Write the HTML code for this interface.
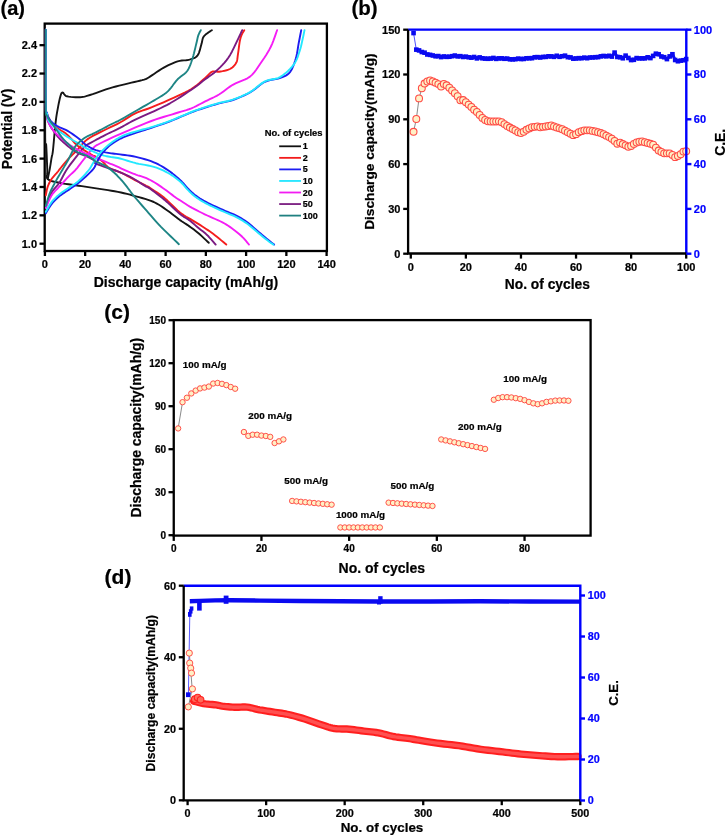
<!DOCTYPE html>
<html><head><meta charset="utf-8"><style>
html,body{margin:0;padding:0;background:#fff;}
svg{display:block;filter:blur(0.35px);}
svg text{font-family:"Liberation Sans", sans-serif;font-weight:bold;}
</style></head><body>
<svg width="725" height="837" viewBox="0 0 725 837">
<rect width="725" height="837" fill="#fff"/>
<rect x="44.7" y="23.6" width="282.2" height="227.4" fill="none" stroke="#000" stroke-width="2.3"/>
<g clip-path="url(#clipA)">
<clipPath id="clipA"><rect x="44.7" y="24.5" width="282.2" height="226.5"/></clipPath>
<path d="M45.20,29.70 L45.19,42.66 L45.16,61.53 L45.14,83.41 L45.13,105.39 L45.14,124.56 L45.20,138.00 L45.31,144.82 L45.46,147.17 L45.63,146.71 L45.82,145.09 L46.02,143.96 L46.20,145.00 L46.39,148.31 L46.59,152.59 L46.79,157.38 L46.98,162.19 L47.16,166.55 L47.30,170.00 L47.28,172.49 L47.07,174.38 L46.84,175.83 L46.76,176.98 L46.99,177.99 L47.70,179.00 L48.90,179.94 L50.45,180.69 L52.32,181.28 L54.45,181.79 L56.79,182.28 L59.30,182.80 L62.07,183.34 L65.16,183.83 L68.47,184.31 L71.88,184.77 L75.29,185.23 L78.60,185.70 L81.81,186.18 L85.01,186.65 L88.21,187.12 L91.41,187.60 L94.64,188.09 L97.90,188.60 L101.22,189.11 L104.59,189.63 L107.98,190.16 L111.36,190.70 L114.67,191.28 L117.90,191.90 L121.02,192.55 L124.05,193.24 L127.03,193.95 L129.98,194.70 L132.93,195.48 L135.90,196.30 L138.93,197.14 L142.01,197.98 L145.08,198.86 L148.10,199.81 L151.03,200.84 L153.80,202.00 L156.42,203.31 L158.92,204.75 L161.33,206.29 L163.64,207.87 L165.90,209.46 L168.10,211.00 L170.25,212.55 L172.35,214.14 L174.37,215.74 L176.33,217.29 L178.21,218.76 L180.00,220.10 L181.68,221.27 L183.24,222.30 L184.73,223.24 L186.17,224.15 L187.62,225.08 L189.10,226.10 L190.60,227.16 L192.08,228.23 L193.56,229.31 L195.06,230.45 L196.60,231.67 L198.20,233.00 L200.00,234.58 L202.01,236.41 L204.07,238.33 L206.00,240.15 L207.63,241.70 L208.80,242.80" fill="none" stroke="#151515" stroke-width="1.9" stroke-linejoin="round" stroke-linecap="round"/>
<path d="M47.70,179.00 L47.92,177.97 L48.22,176.56 L48.58,174.88 L48.97,173.03 L49.35,171.14 L49.70,169.30 L50.03,167.43 L50.36,165.43 L50.69,163.38 L51.01,161.35 L51.31,159.43 L51.60,157.70 L51.85,156.41 L52.06,155.55 L52.26,154.79 L52.47,153.83 L52.71,152.34 L53.00,150.00 L53.35,146.52 L53.76,142.09 L54.19,137.14 L54.63,132.07 L55.08,127.32 L55.50,123.30 L55.90,120.03 L56.29,117.20 L56.68,114.67 L57.07,112.34 L57.48,110.09 L57.90,107.80 L58.35,105.42 L58.83,103.01 L59.32,100.69 L59.80,98.55 L60.27,96.69 L60.70,95.20 L61.07,94.12 L61.38,93.36 L61.67,92.88 L61.98,92.63 L62.34,92.55 L62.80,92.60 L63.26,92.88 L63.69,93.47 L64.16,94.23 L64.79,95.04 L65.67,95.77 L66.90,96.30 L68.60,96.65 L70.71,96.92 L73.08,97.12 L75.53,97.23 L77.89,97.26 L80.00,97.20 L81.74,97.06 L83.22,96.86 L84.61,96.58 L86.09,96.18 L87.83,95.66 L90.00,95.00 L92.68,94.12 L95.74,93.03 L99.07,91.82 L102.52,90.57 L105.98,89.36 L109.30,88.30 L112.56,87.37 L115.87,86.49 L119.19,85.67 L122.45,84.89 L125.60,84.13 L128.60,83.40 L131.51,82.69 L134.40,82.02 L137.19,81.38 L139.79,80.77 L142.12,80.17 L144.10,79.60 L145.55,79.12 L146.49,78.76 L147.16,78.42 L147.80,78.01 L148.67,77.44 L150.00,76.60 L151.84,75.41 L154.01,73.94 L156.41,72.30 L158.91,70.61 L161.41,69.01 L163.80,67.60 L166.12,66.35 L168.47,65.16 L170.82,64.05 L173.14,63.04 L175.41,62.15 L177.60,61.40 L179.74,60.87 L181.86,60.55 L183.92,60.36 L185.90,60.19 L187.77,59.97 L189.50,59.60 L191.10,59.15 L192.58,58.70 L193.96,58.20 L195.22,57.57 L196.37,56.76 L197.40,55.70 L198.29,54.29 L199.04,52.56 L199.67,50.64 L200.22,48.67 L200.72,46.78 L201.20,45.10 L201.62,43.60 L201.93,42.18 L202.20,40.83 L202.47,39.58 L202.78,38.43 L203.20,37.40 L203.72,36.52 L204.29,35.80 L204.92,35.17 L205.59,34.61 L206.28,34.07 L207.00,33.50 L207.81,32.88 L208.73,32.23 L209.69,31.61 L210.59,31.03 L211.35,30.55 L211.90,30.20" fill="none" stroke="#151515" stroke-width="1.9" stroke-linejoin="round" stroke-linecap="round"/>
<path d="M45.60,29.70 L45.58,38.66 L45.54,51.68 L45.50,66.79 L45.48,82.02 L45.51,95.42 L45.60,105.00 L45.76,110.37 L45.97,113.00 L46.23,113.80 L46.52,113.64 L46.85,113.41 L47.20,114.00 L47.59,115.25 L48.01,116.41 L48.46,117.51 L48.95,118.55 L49.46,119.54 L50.00,120.50 L50.55,121.40 L51.10,122.23 L51.69,123.02 L52.32,123.78 L53.02,124.53 L53.80,125.30 L54.72,126.10 L55.77,126.93 L56.88,127.76 L58.00,128.54 L59.06,129.27 L60.00,129.90 L60.80,130.39 L61.49,130.77 L62.13,131.08 L62.75,131.38 L63.39,131.73 L64.10,132.20 L64.84,132.74 L65.57,133.30 L66.33,133.92 L67.14,134.62 L68.02,135.43 L69.00,136.40 L70.10,137.59 L71.31,138.99 L72.59,140.50 L73.92,142.04 L75.27,143.50 L76.60,144.80 L77.93,145.93 L79.29,146.96 L80.66,147.91 L82.04,148.82 L83.42,149.71 L84.80,150.60 L86.25,151.53 L87.80,152.49 L89.34,153.42 L90.80,154.29 L92.09,155.03 L93.10,155.60 L93.73,155.91 L94.02,155.97 L94.14,155.91 L94.23,155.85 L94.47,155.91 L95.00,156.20 L95.88,156.75 L96.98,157.46 L98.22,158.29 L99.52,159.19 L100.77,160.11 L101.90,161.00 L102.91,161.92 L103.86,162.91 L104.78,163.93 L105.67,164.92 L106.54,165.83 L107.40,166.60 L108.18,167.20 L108.84,167.66 L109.49,168.04 L110.21,168.40 L111.08,168.80 L112.20,169.30 L113.61,169.88 L115.26,170.51 L117.06,171.17 L118.93,171.87 L120.81,172.61 L122.60,173.40 L124.30,174.24 L125.97,175.13 L127.64,176.07 L129.34,177.03 L131.08,178.01 L132.90,179.00 L134.89,180.04 L137.06,181.15 L139.27,182.27 L141.41,183.36 L143.36,184.36 L145.00,185.20 L146.16,185.78 L146.90,186.11 L147.46,186.36 L148.04,186.65 L148.88,187.15 L150.20,188.00 L152.06,189.21 L154.28,190.67 L156.76,192.32 L159.39,194.14 L162.04,196.08 L164.60,198.10 L167.15,200.33 L169.78,202.83 L172.44,205.46 L175.07,208.04 L177.61,210.44 L180.00,212.50 L182.21,214.16 L184.27,215.54 L186.25,216.73 L188.18,217.82 L190.12,218.91 L192.10,220.10 L194.15,221.37 L196.22,222.64 L198.29,223.91 L200.35,225.17 L202.36,226.44 L204.30,227.70 L206.15,228.93 L207.92,230.14 L209.65,231.34 L211.37,232.56 L213.11,233.84 L214.90,235.20 L216.89,236.77 L219.06,238.54 L221.26,240.37 L223.31,242.09 L225.05,243.56 L226.30,244.60" fill="none" stroke="#f51d1d" stroke-width="1.9" stroke-linejoin="round" stroke-linecap="round"/>
<path d="M45.80,195.40 L45.98,194.44 L46.22,193.11 L46.51,191.53 L46.85,189.85 L47.25,188.19 L47.70,186.70 L48.21,185.35 L48.78,184.03 L49.41,182.73 L50.09,181.46 L50.82,180.22 L51.60,179.00 L52.49,177.78 L53.51,176.54 L54.58,175.33 L55.63,174.18 L56.60,173.13 L57.40,172.20 L57.95,171.51 L58.29,171.06 L58.54,170.69 L58.83,170.29 L59.27,169.70 L60.00,168.80 L61.05,167.51 L62.34,165.92 L63.79,164.16 L65.32,162.32 L66.85,160.53 L68.30,158.90 L69.70,157.41 L71.13,155.98 L72.56,154.59 L73.96,153.24 L75.32,151.91 L76.60,150.60 L77.81,149.29 L78.96,147.98 L80.06,146.69 L81.12,145.46 L82.17,144.28 L83.20,143.20 L84.14,142.25 L84.95,141.41 L85.74,140.65 L86.61,139.90 L87.66,139.10 L89.00,138.20 L90.61,137.22 L92.41,136.21 L94.40,135.16 L96.56,134.04 L98.90,132.86 L101.40,131.60 L104.19,130.23 L107.28,128.74 L110.55,127.19 L113.85,125.61 L117.05,124.03 L120.00,122.50 L122.67,120.97 L125.15,119.42 L127.52,117.87 L129.87,116.36 L132.27,114.92 L134.80,113.60 L137.44,112.43 L140.13,111.40 L142.86,110.44 L145.65,109.50 L148.50,108.51 L151.40,107.40 L154.35,106.20 L157.35,104.96 L160.40,103.66 L163.52,102.31 L166.71,100.89 L170.00,99.40 L173.49,97.81 L177.21,96.14 L181.00,94.39 L184.73,92.61 L188.24,90.80 L191.40,89.00 L194.22,87.13 L196.82,85.17 L199.21,83.19 L201.39,81.26 L203.39,79.47 L205.20,77.90 L206.75,76.51 L208.01,75.24 L209.08,74.11 L210.06,73.13 L211.03,72.32 L212.10,71.70 L213.20,71.37 L214.25,71.34 L215.29,71.48 L216.40,71.67 L217.61,71.78 L219.00,71.70 L220.65,71.45 L222.54,71.13 L224.54,70.74 L226.54,70.26 L228.40,69.68 L230.00,69.00 L231.36,68.19 L232.59,67.26 L233.68,66.24 L234.64,65.14 L235.48,63.98 L236.20,62.80 L236.74,61.62 L237.09,60.44 L237.32,59.21 L237.49,57.87 L237.66,56.38 L237.90,54.70 L238.20,52.68 L238.51,50.35 L238.83,47.86 L239.15,45.40 L239.48,43.12 L239.80,41.20 L240.12,39.66 L240.44,38.37 L240.76,37.28 L241.09,36.30 L241.44,35.40 L241.80,34.50 L242.22,33.59 L242.69,32.73 L243.18,31.93 L243.63,31.23 L244.02,30.64 L244.30,30.20" fill="none" stroke="#f51d1d" stroke-width="1.9" stroke-linejoin="round" stroke-linecap="round"/>
<path d="M45.60,29.70 L45.59,38.68 L45.57,51.75 L45.56,66.91 L45.55,82.17 L45.56,95.53 L45.60,105.00 L45.67,110.12 L45.77,112.39 L45.89,112.77 L46.02,112.20 L46.16,111.62 L46.30,112.00 L46.43,113.17 L46.54,114.33 L46.66,115.50 L46.81,116.67 L47.01,117.83 L47.30,119.00 L47.66,120.17 L48.09,121.33 L48.57,122.50 L49.10,123.67 L49.68,124.83 L50.30,126.00 L50.99,127.18 L51.75,128.39 L52.56,129.59 L53.39,130.78 L54.21,131.92 L55.00,133.00 L55.71,133.97 L56.36,134.85 L56.99,135.69 L57.69,136.54 L58.50,137.46 L59.50,138.50 L60.72,139.71 L62.13,141.06 L63.66,142.48 L65.24,143.90 L66.81,145.27 L68.30,146.50 L69.71,147.62 L71.11,148.69 L72.49,149.69 L73.86,150.63 L75.23,151.50 L76.60,152.30 L77.97,152.99 L79.34,153.56 L80.70,154.06 L82.06,154.53 L83.43,155.03 L84.80,155.60 L86.25,156.25 L87.80,156.93 L89.34,157.64 L90.80,158.36 L92.09,159.05 L93.10,159.70 L93.69,160.30 L93.90,160.86 L93.92,161.40 L93.98,161.94 L94.27,162.50 L95.00,163.10 L96.27,163.77 L97.94,164.49 L99.84,165.23 L101.81,165.96 L103.68,166.62 L105.30,167.20 L106.61,167.64 L107.72,167.97 L108.74,168.25 L109.77,168.53 L110.89,168.86 L112.20,169.30 L113.73,169.86 L115.41,170.49 L117.19,171.18 L119.01,171.90 L120.83,172.65 L122.60,173.40 L124.30,174.14 L125.97,174.87 L127.64,175.63 L129.34,176.44 L131.08,177.32 L132.90,178.30 L134.89,179.46 L137.06,180.81 L139.27,182.22 L141.41,183.61 L143.36,184.87 L145.00,185.90 L146.16,186.56 L146.90,186.91 L147.46,187.13 L148.04,187.40 L148.88,187.90 L150.20,188.80 L152.06,190.14 L154.28,191.78 L156.76,193.65 L159.39,195.67 L162.04,197.78 L164.60,199.90 L167.18,202.17 L169.89,204.67 L172.63,207.26 L175.30,209.78 L177.79,212.08 L180.00,214.00 L181.88,215.46 L183.50,216.57 L184.94,217.46 L186.30,218.25 L187.66,219.09 L189.10,220.10 L190.62,221.28 L192.13,222.53 L193.65,223.81 L195.17,225.12 L196.68,226.42 L198.20,227.70 L199.72,228.93 L201.26,230.14 L202.79,231.34 L204.32,232.56 L205.82,233.84 L207.30,235.20 L208.84,236.77 L210.46,238.54 L212.07,240.37 L213.55,242.09 L214.79,243.56 L215.70,244.60" fill="none" stroke="#7b1a82" stroke-width="1.9" stroke-linejoin="round" stroke-linecap="round"/>
<path d="M45.80,207.00 L46.41,205.37 L47.23,203.06 L48.22,200.36 L49.31,197.51 L50.46,194.81 L51.60,192.50 L52.78,190.64 L54.04,189.04 L55.36,187.56 L56.69,186.11 L58.02,184.56 L59.30,182.80 L60.51,180.82 L61.66,178.69 L62.81,176.48 L63.98,174.21 L65.23,171.93 L66.60,169.70 L68.13,167.46 L69.80,165.16 L71.54,162.85 L73.30,160.59 L75.01,158.42 L76.60,156.40 L78.07,154.50 L79.46,152.67 L80.81,150.93 L82.13,149.31 L83.45,147.83 L84.80,146.50 L86.13,145.40 L87.41,144.53 L88.69,143.79 L90.03,143.10 L91.48,142.37 L93.10,141.50 L94.91,140.50 L96.85,139.43 L98.91,138.32 L101.06,137.19 L103.26,136.04 L105.50,134.90 L107.79,133.77 L110.17,132.64 L112.60,131.49 L115.07,130.33 L117.54,129.13 L120.00,127.90 L122.43,126.61 L124.84,125.26 L127.27,123.88 L129.72,122.49 L132.23,121.12 L134.80,119.80 L137.44,118.55 L140.13,117.34 L142.86,116.16 L145.65,114.97 L148.50,113.72 L151.40,112.40 L154.35,111.03 L157.35,109.66 L160.40,108.24 L163.52,106.73 L166.71,105.10 L170.00,103.30 L173.49,101.26 L177.21,98.98 L181.00,96.58 L184.73,94.16 L188.24,91.83 L191.40,89.70 L194.17,87.76 L196.67,85.92 L198.95,84.17 L201.09,82.49 L203.15,80.87 L205.20,79.30 L207.18,77.86 L209.03,76.57 L210.79,75.34 L212.54,74.07 L214.32,72.66 L216.20,71.00 L218.21,69.11 L220.31,67.06 L222.45,64.87 L224.57,62.54 L226.60,60.08 L228.50,57.50 L230.29,54.63 L232.04,51.44 L233.70,48.12 L235.25,44.87 L236.66,41.86 L237.90,39.30 L238.96,37.15 L239.87,35.26 L240.64,33.61 L241.27,32.22 L241.79,31.08 L242.20,30.20" fill="none" stroke="#7b1a82" stroke-width="1.9" stroke-linejoin="round" stroke-linecap="round"/>
<path d="M45.60,29.70 L45.59,38.66 L45.56,51.68 L45.54,66.79 L45.53,82.02 L45.54,95.42 L45.60,105.00 L45.70,110.35 L45.83,112.95 L45.98,113.71 L46.16,113.53 L46.37,113.33 L46.60,114.00 L46.83,115.39 L47.07,116.74 L47.33,118.06 L47.64,119.37 L48.02,120.68 L48.50,122.00 L49.08,123.35 L49.75,124.73 L50.49,126.11 L51.29,127.47 L52.13,128.77 L53.00,130.00 L53.97,131.20 L55.07,132.40 L56.22,133.55 L57.31,134.60 L58.27,135.50 L59.00,136.20 L59.37,136.57 L59.43,136.64 L59.36,136.55 L59.31,136.47 L59.47,136.57 L60.00,137.00 L60.96,137.83 L62.23,138.95 L63.69,140.24 L65.26,141.59 L66.83,142.88 L68.30,144.00 L69.68,144.96 L71.07,145.85 L72.46,146.68 L73.84,147.47 L75.22,148.24 L76.60,149.00 L77.97,149.74 L79.34,150.46 L80.70,151.16 L82.06,151.83 L83.43,152.47 L84.80,153.10 L86.25,153.72 L87.80,154.34 L89.34,154.93 L90.80,155.49 L92.09,155.98 L93.10,156.40 L93.69,156.69 L93.90,156.85 L93.92,156.95 L93.98,157.06 L94.27,157.26 L95.00,157.60 L96.23,158.11 L97.81,158.75 L99.62,159.46 L101.55,160.22 L103.48,160.98 L105.30,161.70 L107.03,162.39 L108.76,163.07 L110.50,163.76 L112.24,164.45 L113.97,165.16 L115.70,165.90 L117.42,166.67 L119.14,167.48 L120.85,168.31 L122.56,169.13 L124.28,169.93 L126.00,170.70 L127.75,171.44 L129.53,172.17 L131.31,172.87 L133.06,173.56 L134.77,174.20 L136.40,174.80 L137.94,175.32 L139.39,175.77 L140.80,176.18 L142.19,176.60 L143.58,177.06 L145.00,177.60 L146.43,178.21 L147.84,178.84 L149.26,179.52 L150.71,180.27 L152.22,181.09 L153.80,182.00 L155.49,183.03 L157.26,184.16 L159.08,185.38 L160.93,186.64 L162.78,187.92 L164.60,189.20 L166.46,190.54 L168.40,191.99 L170.33,193.46 L172.18,194.87 L173.87,196.14 L175.30,197.20 L176.34,197.95 L177.04,198.43 L177.56,198.77 L178.11,199.11 L178.86,199.58 L180.00,200.30 L181.55,201.31 L183.37,202.50 L185.39,203.82 L187.56,205.20 L189.82,206.58 L192.10,207.90 L194.45,209.17 L196.94,210.46 L199.51,211.74 L202.12,213.02 L204.73,214.27 L207.30,215.50 L209.89,216.69 L212.54,217.86 L215.19,219.00 L217.77,220.13 L220.23,221.26 L222.50,222.40 L224.55,223.53 L226.43,224.64 L228.18,225.76 L229.85,226.88 L231.47,228.02 L233.10,229.20 L234.73,230.42 L236.33,231.67 L237.89,232.94 L239.39,234.22 L240.83,235.51 L242.20,236.80 L243.55,238.18 L244.89,239.67 L246.17,241.18 L247.32,242.57 L248.29,243.75 L249.00,244.60" fill="none" stroke="#f51df5" stroke-width="1.9" stroke-linejoin="round" stroke-linecap="round"/>
<path d="M45.80,207.90 L46.41,206.50 L47.23,204.52 L48.22,202.19 L49.31,199.75 L50.46,197.41 L51.60,195.40 L52.75,193.75 L53.95,192.29 L55.21,190.93 L56.51,189.60 L57.88,188.22 L59.30,186.70 L60.84,184.99 L62.50,183.15 L64.21,181.26 L65.91,179.39 L67.53,177.65 L69.00,176.10 L70.26,174.85 L71.37,173.85 L72.39,172.96 L73.40,172.06 L74.48,171.02 L75.70,169.70 L77.09,168.05 L78.59,166.16 L80.15,164.12 L81.74,162.04 L83.30,160.00 L84.80,158.10 L86.25,156.28 L87.68,154.45 L89.09,152.66 L90.47,150.97 L91.81,149.44 L93.10,148.10 L94.18,147.08 L95.02,146.34 L95.82,145.76 L96.78,145.19 L98.11,144.48 L100.00,143.50 L102.44,142.25 L105.27,140.86 L108.47,139.33 L112.00,137.69 L115.86,135.94 L120.00,134.10 L124.66,132.07 L129.91,129.80 L135.48,127.43 L141.09,125.09 L146.49,122.90 L151.40,121.00 L155.87,119.40 L160.11,118.00 L164.14,116.76 L167.96,115.62 L171.57,114.55 L175.00,113.50 L178.18,112.52 L181.10,111.66 L183.81,110.86 L186.39,110.07 L188.90,109.24 L191.40,108.30 L193.85,107.25 L196.19,106.13 L198.46,104.96 L200.70,103.76 L202.93,102.57 L205.20,101.40 L207.50,100.28 L209.80,99.20 L212.10,98.13 L214.40,97.01 L216.70,95.81 L219.00,94.50 L221.26,93.03 L223.47,91.42 L225.69,89.73 L227.95,88.03 L230.30,86.36 L232.80,84.80 L235.54,83.41 L238.51,82.17 L241.57,80.97 L244.59,79.71 L247.45,78.29 L250.00,76.60 L252.22,74.61 L254.21,72.39 L256.03,70.01 L257.74,67.52 L259.41,65.00 L261.10,62.50 L262.82,60.01 L264.53,57.49 L266.19,54.92 L267.79,52.31 L269.30,49.67 L270.70,47.00 L272.03,44.08 L273.31,40.87 L274.50,37.63 L275.56,34.60 L276.44,32.04 L277.10,30.20" fill="none" stroke="#f51df5" stroke-width="1.9" stroke-linejoin="round" stroke-linecap="round"/>
<path d="M45.60,29.70 L45.58,38.67 L45.55,51.72 L45.52,66.86 L45.50,82.10 L45.52,95.48 L45.60,105.00 L45.72,110.22 L45.86,112.64 L46.04,113.18 L46.26,112.79 L46.55,112.38 L46.90,112.90 L47.30,114.21 L47.75,115.53 L48.25,116.85 L48.83,118.13 L49.51,119.36 L50.30,120.50 L51.21,121.55 L52.21,122.51 L53.31,123.42 L54.51,124.29 L55.81,125.14 L57.20,126.00 L58.72,126.82 L60.39,127.58 L62.14,128.32 L63.96,129.10 L65.79,129.94 L67.60,130.90 L69.45,132.02 L71.40,133.28 L73.36,134.61 L75.27,135.94 L77.04,137.23 L78.60,138.40 L79.89,139.45 L80.94,140.43 L81.87,141.36 L82.76,142.25 L83.70,143.12 L84.80,144.00 L86.06,144.90 L87.41,145.80 L88.82,146.69 L90.26,147.54 L91.69,148.32 L93.10,149.00 L94.48,149.57 L95.87,150.05 L97.25,150.46 L98.63,150.83 L100.02,151.16 L101.40,151.50 L102.76,151.82 L104.09,152.11 L105.43,152.38 L106.79,152.62 L108.20,152.86 L109.70,153.10 L111.24,153.32 L112.78,153.51 L114.38,153.69 L116.08,153.89 L117.94,154.12 L120.00,154.40 L122.30,154.71 L124.81,155.04 L127.47,155.39 L130.24,155.81 L133.07,156.30 L135.90,156.90 L138.81,157.60 L141.85,158.39 L144.95,159.26 L148.03,160.20 L151.00,161.22 L153.80,162.30 L156.42,163.46 L158.92,164.71 L161.33,166.04 L163.64,167.42 L165.90,168.84 L168.10,170.30 L170.25,171.81 L172.35,173.37 L174.37,174.99 L176.33,176.63 L178.21,178.27 L180.00,179.90 L181.68,181.55 L183.24,183.23 L184.73,184.93 L186.17,186.59 L187.62,188.19 L189.10,189.70 L190.58,191.10 L192.02,192.43 L193.46,193.69 L194.94,194.91 L196.51,196.11 L198.20,197.30 L200.01,198.48 L201.90,199.62 L203.87,200.74 L205.93,201.86 L208.07,202.97 L210.30,204.10 L212.69,205.26 L215.25,206.45 L217.89,207.64 L220.54,208.81 L223.10,209.94 L225.50,211.00 L227.73,211.96 L229.85,212.83 L231.89,213.66 L233.86,214.48 L235.79,215.35 L237.70,216.30 L239.56,217.32 L241.35,218.37 L243.10,219.46 L244.83,220.61 L246.55,221.82 L248.30,223.10 L250.08,224.50 L251.89,226.02 L253.69,227.60 L255.48,229.19 L257.22,230.74 L258.90,232.20 L260.54,233.59 L262.16,234.95 L263.73,236.27 L265.24,237.53 L266.67,238.71 L268.00,239.80 L269.26,240.82 L270.48,241.79 L271.62,242.68 L272.63,243.46 L273.47,244.11 L274.10,244.60" fill="none" stroke="#1d1df0" stroke-width="1.9" stroke-linejoin="round" stroke-linecap="round"/>
<path d="M45.60,29.70 L45.58,38.66 L45.55,51.68 L45.51,66.79 L45.50,82.02 L45.52,95.42 L45.60,105.00 L45.75,110.36 L45.94,112.98 L46.18,113.76 L46.44,113.59 L46.72,113.37 L47.00,114.00 L47.23,115.29 L47.39,116.49 L47.58,117.64 L47.85,118.79 L48.30,119.96 L49.00,121.20 L50.04,122.56 L51.36,124.03 L52.86,125.52 L54.41,126.97 L55.90,128.32 L57.20,129.50 L58.28,130.46 L59.23,131.26 L60.11,131.95 L60.99,132.60 L61.93,133.26 L63.00,134.00 L64.23,134.84 L65.59,135.72 L67.01,136.62 L68.43,137.51 L69.78,138.35 L71.00,139.10 L72.04,139.74 L72.95,140.27 L73.79,140.76 L74.63,141.25 L75.54,141.78 L76.60,142.40 L77.82,143.13 L79.14,143.94 L80.53,144.79 L81.96,145.66 L83.40,146.51 L84.80,147.30 L86.18,148.05 L87.56,148.79 L88.94,149.50 L90.33,150.19 L91.72,150.86 L93.10,151.50 L94.48,152.12 L95.87,152.71 L97.25,153.29 L98.63,153.83 L100.02,154.34 L101.40,154.80 L102.76,155.21 L104.09,155.57 L105.43,155.90 L106.79,156.20 L108.20,156.50 L109.70,156.80 L111.24,157.07 L112.78,157.28 L114.38,157.48 L116.08,157.72 L117.94,158.05 L120.00,158.50 L122.30,159.12 L124.81,159.89 L127.47,160.73 L130.24,161.60 L133.07,162.45 L135.90,163.20 L138.81,163.83 L141.85,164.39 L144.95,164.91 L148.03,165.45 L151.00,166.06 L153.80,166.80 L156.42,167.66 L158.92,168.59 L161.33,169.60 L163.64,170.67 L165.90,171.81 L168.10,173.00 L170.25,174.26 L172.35,175.59 L174.37,176.97 L176.33,178.41 L178.21,179.89 L180.00,181.40 L181.68,182.98 L183.24,184.64 L184.73,186.35 L186.17,188.04 L187.62,189.68 L189.10,191.20 L190.58,192.60 L192.02,193.93 L193.46,195.19 L194.94,196.41 L196.51,197.61 L198.20,198.80 L200.01,199.98 L201.90,201.12 L203.87,202.24 L205.93,203.36 L208.07,204.47 L210.30,205.60 L212.69,206.76 L215.25,207.95 L217.89,209.14 L220.54,210.31 L223.10,211.44 L225.50,212.50 L227.73,213.46 L229.85,214.33 L231.89,215.16 L233.86,215.98 L235.79,216.85 L237.70,217.80 L239.56,218.82 L241.35,219.88 L243.10,220.98 L244.83,222.12 L246.55,223.33 L248.30,224.60 L250.08,225.98 L251.89,227.47 L253.69,229.02 L255.48,230.57 L257.22,232.08 L258.90,233.50 L260.55,234.85 L262.18,236.18 L263.78,237.47 L265.30,238.69 L266.71,239.80 L268.00,240.80 L269.18,241.68 L270.27,242.47 L271.27,243.16 L272.14,243.74 L272.86,244.23 L273.40,244.60" fill="none" stroke="#22e8ff" stroke-width="1.9" stroke-linejoin="round" stroke-linecap="round"/>
<path d="M45.80,213.20 L46.41,212.19 L47.23,210.79 L48.22,209.14 L49.31,207.37 L50.46,205.65 L51.60,204.10 L52.75,202.71 L53.95,201.36 L55.21,200.05 L56.51,198.77 L57.88,197.52 L59.30,196.30 L60.80,195.12 L62.39,193.99 L64.03,192.89 L65.70,191.80 L67.37,190.71 L69.00,189.60 L70.56,188.54 L72.05,187.56 L73.54,186.58 L75.09,185.51 L76.75,184.28 L78.60,182.80 L80.78,180.96 L83.26,178.80 L85.87,176.48 L88.40,174.13 L90.68,171.93 L92.50,170.00 L93.78,168.40 L94.66,167.01 L95.28,165.76 L95.78,164.56 L96.31,163.33 L97.00,162.00 L97.81,160.56 L98.63,159.08 L99.46,157.57 L100.35,156.06 L101.32,154.56 L102.40,153.10 L103.57,151.67 L104.80,150.26 L106.11,148.86 L107.52,147.48 L109.05,146.12 L110.70,144.80 L112.48,143.50 L114.37,142.21 L116.38,140.94 L118.50,139.71 L120.74,138.53 L123.10,137.40 L125.68,136.32 L128.50,135.27 L131.44,134.28 L134.37,133.33 L137.17,132.43 L139.70,131.60 L141.85,130.88 L143.71,130.29 L145.42,129.74 L147.17,129.19 L149.11,128.57 L151.40,127.80 L154.07,126.90 L156.99,125.92 L160.09,124.87 L163.34,123.74 L166.66,122.55 L170.00,121.30 L173.49,119.91 L177.21,118.36 L181.00,116.74 L184.73,115.15 L188.24,113.67 L191.40,112.40 L194.14,111.36 L196.56,110.47 L198.77,109.71 L200.88,109.00 L202.99,108.32 L205.20,107.60 L207.50,106.86 L209.80,106.13 L212.10,105.41 L214.40,104.72 L216.70,104.05 L219.00,103.40 L221.26,102.83 L223.47,102.36 L225.69,101.91 L227.95,101.41 L230.30,100.79 L232.80,100.00 L235.50,99.02 L238.37,97.92 L241.33,96.71 L244.31,95.39 L247.23,93.98 L250.00,92.50 L252.61,90.82 L255.11,88.92 L257.56,86.92 L259.97,84.98 L262.41,83.23 L264.90,81.80 L267.52,80.78 L270.24,80.07 L272.98,79.54 L275.65,79.09 L278.15,78.58 L280.40,77.90 L282.39,77.13 L284.18,76.39 L285.81,75.60 L287.30,74.67 L288.69,73.53 L290.00,72.10 L291.22,70.32 L292.32,68.24 L293.32,65.95 L294.22,63.53 L295.05,61.05 L295.80,58.60 L296.46,56.12 L297.00,53.52 L297.46,50.87 L297.87,48.23 L298.27,45.65 L298.70,43.20 L299.17,40.74 L299.66,38.21 L300.13,35.74 L300.57,33.48 L300.93,31.59 L301.20,30.20" fill="none" stroke="#1d1df0" stroke-width="1.9" stroke-linejoin="round" stroke-linecap="round"/>
<path d="M45.80,211.80 L46.41,210.72 L47.23,209.21 L48.22,207.43 L49.31,205.54 L50.46,203.71 L51.60,202.10 L52.75,200.69 L53.95,199.35 L55.21,198.07 L56.51,196.83 L57.88,195.61 L59.30,194.40 L60.80,193.21 L62.39,192.06 L64.03,190.94 L65.70,189.83 L67.37,188.72 L69.00,187.60 L70.60,186.53 L72.19,185.51 L73.77,184.51 L75.36,183.44 L76.97,182.26 L78.60,180.90 L80.32,179.30 L82.14,177.49 L83.97,175.56 L85.75,173.61 L87.38,171.73 L88.80,170.00 L89.95,168.44 L90.88,166.99 L91.67,165.59 L92.40,164.24 L93.15,162.88 L94.00,161.50 L94.89,160.11 L95.73,158.75 L96.60,157.39 L97.54,156.01 L98.62,154.59 L99.90,153.10 L101.40,151.51 L103.08,149.82 L104.89,148.09 L106.80,146.38 L108.75,144.73 L110.70,143.20 L112.63,141.79 L114.56,140.44 L116.54,139.16 L118.60,137.95 L120.77,136.79 L123.10,135.70 L125.68,134.67 L128.50,133.69 L131.44,132.78 L134.37,131.93 L137.17,131.14 L139.70,130.40 L141.85,129.78 L143.71,129.29 L145.42,128.86 L147.17,128.42 L149.11,127.89 L151.40,127.20 L154.07,126.36 L156.99,125.43 L160.09,124.41 L163.34,123.31 L166.66,122.14 L170.00,120.90 L173.49,119.52 L177.21,117.97 L181.00,116.36 L184.73,114.76 L188.24,113.28 L191.40,112.00 L194.14,110.96 L196.56,110.07 L198.77,109.31 L200.88,108.60 L202.99,107.92 L205.20,107.20 L207.50,106.46 L209.80,105.73 L212.10,105.01 L214.40,104.32 L216.70,103.65 L219.00,103.00 L221.26,102.43 L223.47,101.96 L225.69,101.51 L227.95,101.01 L230.30,100.39 L232.80,99.60 L235.50,98.62 L238.37,97.52 L241.33,96.31 L244.31,94.99 L247.23,93.58 L250.00,92.10 L252.61,90.43 L255.11,88.54 L257.56,86.56 L259.97,84.63 L262.41,82.86 L264.90,81.40 L267.47,80.38 L270.10,79.74 L272.74,79.26 L275.36,78.76 L277.93,78.04 L280.40,76.90 L282.85,75.29 L285.33,73.36 L287.76,71.21 L290.04,68.94 L292.12,66.63 L293.90,64.40 L295.35,62.19 L296.51,59.90 L297.46,57.59 L298.27,55.30 L298.99,53.05 L299.70,50.90 L300.36,48.83 L300.92,46.80 L301.39,44.83 L301.81,42.91 L302.21,41.07 L302.60,39.30 L303.00,37.53 L303.38,35.74 L303.73,34.02 L304.04,32.47 L304.30,31.16 L304.50,30.20" fill="none" stroke="#22e8ff" stroke-width="1.9" stroke-linejoin="round" stroke-linecap="round"/>
<path d="M45.60,29.70 L45.58,38.64 L45.55,51.61 L45.52,66.68 L45.50,81.90 L45.52,95.32 L45.60,105.00 L45.68,110.53 L45.73,113.37 L45.82,114.41 L46.00,114.56 L46.34,114.69 L46.90,115.70 L47.76,117.49 L48.89,119.32 L50.17,121.14 L51.49,122.90 L52.74,124.54 L53.80,126.00 L54.65,127.24 L55.38,128.30 L56.03,129.24 L56.66,130.12 L57.30,131.02 L58.00,132.00 L58.76,133.07 L59.53,134.17 L60.32,135.28 L61.13,136.39 L61.95,137.47 L62.80,138.50 L63.64,139.45 L64.48,140.33 L65.33,141.19 L66.23,142.06 L67.21,142.98 L68.30,144.00 L69.52,145.18 L70.86,146.51 L72.28,147.89 L73.74,149.24 L75.19,150.47 L76.60,151.50 L77.97,152.28 L79.34,152.88 L80.70,153.36 L82.06,153.80 L83.43,154.25 L84.80,154.80 L86.25,155.46 L87.80,156.18 L89.34,156.93 L90.80,157.65 L92.09,158.32 L93.10,158.90 L93.69,159.33 L93.90,159.64 L93.92,159.90 L93.98,160.17 L94.27,160.51 L95.00,161.00 L96.25,161.63 L97.86,162.35 L99.71,163.15 L101.65,164.01 L103.56,164.94 L105.30,165.90 L106.92,166.96 L108.55,168.13 L110.14,169.36 L111.66,170.58 L113.06,171.75 L114.30,172.80 L115.34,173.71 L116.21,174.53 L116.96,175.29 L117.65,176.03 L118.34,176.78 L119.10,177.60 L119.91,178.47 L120.73,179.36 L121.55,180.26 L122.37,181.19 L123.19,182.13 L124.00,183.10 L124.80,184.08 L125.59,185.09 L126.38,186.11 L127.17,187.15 L127.97,188.21 L128.80,189.30 L129.57,190.33 L130.26,191.30 L130.97,192.29 L131.78,193.39 L132.79,194.70 L134.10,196.30 L135.74,198.25 L137.66,200.49 L139.78,202.93 L142.03,205.50 L144.32,208.12 L146.60,210.70 L148.85,213.27 L151.13,215.89 L153.46,218.56 L155.87,221.27 L158.38,224.02 L161.00,226.80 L163.99,229.83 L167.37,233.15 L170.85,236.51 L174.13,239.64 L176.91,242.29 L178.90,244.20" fill="none" stroke="#1e8585" stroke-width="1.9" stroke-linejoin="round" stroke-linecap="round"/>
<path d="M45.80,206.00 L46.20,204.62 L46.74,202.69 L47.39,200.42 L48.12,197.99 L48.90,195.58 L49.70,193.40 L50.53,191.43 L51.41,189.51 L52.35,187.62 L53.33,185.74 L54.35,183.84 L55.40,181.90 L56.52,179.88 L57.71,177.80 L58.94,175.71 L60.18,173.63 L61.38,171.61 L62.50,169.70 L63.56,167.89 L64.59,166.14 L65.59,164.45 L66.54,162.82 L67.45,161.24 L68.30,159.70 L69.08,158.21 L69.79,156.78 L70.45,155.39 L71.09,154.06 L71.73,152.76 L72.40,151.50 L73.05,150.30 L73.64,149.17 L74.24,148.07 L74.90,147.00 L75.67,145.92 L76.60,144.80 L77.73,143.62 L79.03,142.38 L80.44,141.14 L81.91,139.93 L83.38,138.80 L84.80,137.80 L86.18,136.95 L87.56,136.22 L88.94,135.57 L90.33,134.97 L91.72,134.36 L93.10,133.70 L94.48,133.01 L95.87,132.32 L97.25,131.62 L98.63,130.93 L100.02,130.22 L101.40,129.50 L102.76,128.77 L104.09,128.04 L105.43,127.30 L106.79,126.55 L108.20,125.78 L109.70,125.00 L111.25,124.24 L112.82,123.50 L114.44,122.75 L116.16,121.94 L118.00,121.04 L120.00,120.00 L122.19,118.80 L124.53,117.46 L127.01,116.03 L129.57,114.54 L132.18,113.02 L134.80,111.50 L137.51,109.95 L140.36,108.33 L143.25,106.69 L146.11,105.06 L148.86,103.48 L151.40,102.00 L153.78,100.61 L156.07,99.28 L158.25,98.00 L160.28,96.78 L162.14,95.61 L163.80,94.50 L165.18,93.52 L166.27,92.67 L167.20,91.89 L168.06,91.07 L168.96,90.14 L170.00,89.00 L171.16,87.61 L172.36,86.03 L173.59,84.32 L174.87,82.59 L176.20,80.88 L177.60,79.30 L179.13,77.88 L180.81,76.59 L182.54,75.32 L184.24,74.03 L185.83,72.61 L187.20,71.00 L188.35,69.19 L189.34,67.25 L190.21,65.19 L191.00,63.03 L191.75,60.79 L192.50,58.50 L193.25,56.03 L193.98,53.33 L194.66,50.56 L195.30,47.85 L195.88,45.35 L196.40,43.20 L196.83,41.44 L197.16,39.95 L197.44,38.67 L197.70,37.53 L197.97,36.46 L198.30,35.40 L198.71,34.32 L199.18,33.28 L199.67,32.31 L200.13,31.45 L200.52,30.74 L200.80,30.20" fill="none" stroke="#1e8585" stroke-width="1.9" stroke-linejoin="round" stroke-linecap="round"/>
</g>
<path d="M413.55,131.84 L416.31,119.00 L419.06,98.39 L421.82,88.24" fill="none" stroke="#8a8a8a" stroke-width="1"/>
<path d="M413.55,33.06 L416.31,49.64 L419.06,50.43" fill="none" stroke="#5050ff" stroke-width="1"/>
<path d="M416.31,49.64 L419.06,50.43 L421.82,52.01 L424.57,52.68 L427.32,54.47 L430.08,54.85 L432.83,55.47 L435.59,56.28 L438.34,56.07 L441.09,57.09 L443.85,56.46 L446.60,56.85 L449.36,56.73 L452.11,56.19 L454.86,55.55 L457.62,56.40 L460.37,56.17 L463.13,56.97 L465.88,56.66 L468.63,57.29 L471.39,57.65 L474.14,57.00 L476.90,58.37 L479.65,57.40 L482.40,58.29 L485.16,58.61 L487.91,58.77 L490.67,58.57 L493.42,57.95 L496.17,58.86 L498.93,58.37 L501.68,58.35 L504.44,58.77 L507.19,58.59 L509.94,59.30 L512.70,59.36 L515.45,59.22 L518.21,58.63 L520.96,59.03 L523.71,58.93 L526.47,58.31 L529.22,58.23 L531.98,58.18 L534.73,57.26 L537.48,57.13 L540.24,57.48 L542.99,56.93 L545.75,56.88 L548.50,56.30 L551.25,56.38 L554.01,56.84 L556.76,55.78 L559.52,56.80 L562.27,56.26 L565.02,55.67 L567.78,57.16 L570.53,57.38 L573.29,58.66 L576.04,58.48 L578.79,58.17 L581.55,58.24 L584.30,57.64 L587.06,58.21 L589.81,57.51 L592.56,57.46 L595.32,57.22 L598.07,57.12 L600.83,56.35 L603.58,55.95 L606.33,56.32 L609.09,55.80 L611.84,56.61 L614.60,52.61 L617.35,56.94 L620.10,57.26 L622.86,58.28 L625.61,55.64 L628.37,57.97 L631.12,60.05 L633.87,59.80 L636.63,58.09 L639.38,58.39 L642.14,58.37 L644.89,58.36 L647.64,57.32 L650.40,58.09 L653.15,55.91 L655.91,53.70 L658.66,54.25 L661.41,56.51 L664.17,57.21 L666.92,59.09 L669.68,56.40 L672.43,54.25 L675.18,60.01 L677.94,61.25 L680.69,60.61 L683.45,60.24 L686.20,59.09" fill="none" stroke="#0a0af0" stroke-width="3.0" stroke-linejoin="round"/>
<rect x="411.25" y="30.76" width="4.6" height="4.6" fill="#0a0af0"/>
<rect x="414.01" y="47.34" width="4.6" height="4.6" fill="#0a0af0"/>
<rect x="416.76" y="48.13" width="4.6" height="4.6" fill="#0a0af0"/>
<rect x="419.52" y="49.71" width="4.6" height="4.6" fill="#0a0af0"/>
<rect x="422.27" y="50.38" width="4.6" height="4.6" fill="#0a0af0"/>
<rect x="425.02" y="52.17" width="4.6" height="4.6" fill="#0a0af0"/>
<rect x="427.78" y="52.55" width="4.6" height="4.6" fill="#0a0af0"/>
<rect x="430.53" y="53.17" width="4.6" height="4.6" fill="#0a0af0"/>
<rect x="433.29" y="53.98" width="4.6" height="4.6" fill="#0a0af0"/>
<rect x="436.04" y="53.77" width="4.6" height="4.6" fill="#0a0af0"/>
<rect x="438.79" y="54.79" width="4.6" height="4.6" fill="#0a0af0"/>
<rect x="441.55" y="54.16" width="4.6" height="4.6" fill="#0a0af0"/>
<rect x="444.30" y="54.55" width="4.6" height="4.6" fill="#0a0af0"/>
<rect x="447.06" y="54.43" width="4.6" height="4.6" fill="#0a0af0"/>
<rect x="449.81" y="53.89" width="4.6" height="4.6" fill="#0a0af0"/>
<rect x="452.56" y="53.25" width="4.6" height="4.6" fill="#0a0af0"/>
<rect x="455.32" y="54.10" width="4.6" height="4.6" fill="#0a0af0"/>
<rect x="458.07" y="53.87" width="4.6" height="4.6" fill="#0a0af0"/>
<rect x="460.83" y="54.67" width="4.6" height="4.6" fill="#0a0af0"/>
<rect x="463.58" y="54.36" width="4.6" height="4.6" fill="#0a0af0"/>
<rect x="466.33" y="54.99" width="4.6" height="4.6" fill="#0a0af0"/>
<rect x="469.09" y="55.35" width="4.6" height="4.6" fill="#0a0af0"/>
<rect x="471.84" y="54.70" width="4.6" height="4.6" fill="#0a0af0"/>
<rect x="474.60" y="56.07" width="4.6" height="4.6" fill="#0a0af0"/>
<rect x="477.35" y="55.10" width="4.6" height="4.6" fill="#0a0af0"/>
<rect x="480.10" y="55.99" width="4.6" height="4.6" fill="#0a0af0"/>
<rect x="482.86" y="56.31" width="4.6" height="4.6" fill="#0a0af0"/>
<rect x="485.61" y="56.47" width="4.6" height="4.6" fill="#0a0af0"/>
<rect x="488.37" y="56.27" width="4.6" height="4.6" fill="#0a0af0"/>
<rect x="491.12" y="55.65" width="4.6" height="4.6" fill="#0a0af0"/>
<rect x="493.87" y="56.56" width="4.6" height="4.6" fill="#0a0af0"/>
<rect x="496.63" y="56.07" width="4.6" height="4.6" fill="#0a0af0"/>
<rect x="499.38" y="56.05" width="4.6" height="4.6" fill="#0a0af0"/>
<rect x="502.14" y="56.47" width="4.6" height="4.6" fill="#0a0af0"/>
<rect x="504.89" y="56.29" width="4.6" height="4.6" fill="#0a0af0"/>
<rect x="507.64" y="57.00" width="4.6" height="4.6" fill="#0a0af0"/>
<rect x="510.40" y="57.06" width="4.6" height="4.6" fill="#0a0af0"/>
<rect x="513.15" y="56.92" width="4.6" height="4.6" fill="#0a0af0"/>
<rect x="515.91" y="56.33" width="4.6" height="4.6" fill="#0a0af0"/>
<rect x="518.66" y="56.73" width="4.6" height="4.6" fill="#0a0af0"/>
<rect x="521.41" y="56.63" width="4.6" height="4.6" fill="#0a0af0"/>
<rect x="524.17" y="56.01" width="4.6" height="4.6" fill="#0a0af0"/>
<rect x="526.92" y="55.93" width="4.6" height="4.6" fill="#0a0af0"/>
<rect x="529.68" y="55.88" width="4.6" height="4.6" fill="#0a0af0"/>
<rect x="532.43" y="54.96" width="4.6" height="4.6" fill="#0a0af0"/>
<rect x="535.18" y="54.83" width="4.6" height="4.6" fill="#0a0af0"/>
<rect x="537.94" y="55.18" width="4.6" height="4.6" fill="#0a0af0"/>
<rect x="540.69" y="54.63" width="4.6" height="4.6" fill="#0a0af0"/>
<rect x="543.45" y="54.58" width="4.6" height="4.6" fill="#0a0af0"/>
<rect x="546.20" y="54.00" width="4.6" height="4.6" fill="#0a0af0"/>
<rect x="548.95" y="54.08" width="4.6" height="4.6" fill="#0a0af0"/>
<rect x="551.71" y="54.54" width="4.6" height="4.6" fill="#0a0af0"/>
<rect x="554.46" y="53.48" width="4.6" height="4.6" fill="#0a0af0"/>
<rect x="557.22" y="54.50" width="4.6" height="4.6" fill="#0a0af0"/>
<rect x="559.97" y="53.96" width="4.6" height="4.6" fill="#0a0af0"/>
<rect x="562.72" y="53.37" width="4.6" height="4.6" fill="#0a0af0"/>
<rect x="565.48" y="54.86" width="4.6" height="4.6" fill="#0a0af0"/>
<rect x="568.23" y="55.08" width="4.6" height="4.6" fill="#0a0af0"/>
<rect x="570.99" y="56.36" width="4.6" height="4.6" fill="#0a0af0"/>
<rect x="573.74" y="56.18" width="4.6" height="4.6" fill="#0a0af0"/>
<rect x="576.49" y="55.87" width="4.6" height="4.6" fill="#0a0af0"/>
<rect x="579.25" y="55.94" width="4.6" height="4.6" fill="#0a0af0"/>
<rect x="582.00" y="55.34" width="4.6" height="4.6" fill="#0a0af0"/>
<rect x="584.76" y="55.91" width="4.6" height="4.6" fill="#0a0af0"/>
<rect x="587.51" y="55.21" width="4.6" height="4.6" fill="#0a0af0"/>
<rect x="590.26" y="55.16" width="4.6" height="4.6" fill="#0a0af0"/>
<rect x="593.02" y="54.92" width="4.6" height="4.6" fill="#0a0af0"/>
<rect x="595.77" y="54.82" width="4.6" height="4.6" fill="#0a0af0"/>
<rect x="598.53" y="54.05" width="4.6" height="4.6" fill="#0a0af0"/>
<rect x="601.28" y="53.65" width="4.6" height="4.6" fill="#0a0af0"/>
<rect x="604.03" y="54.02" width="4.6" height="4.6" fill="#0a0af0"/>
<rect x="606.79" y="53.50" width="4.6" height="4.6" fill="#0a0af0"/>
<rect x="609.54" y="54.31" width="4.6" height="4.6" fill="#0a0af0"/>
<rect x="612.30" y="50.31" width="4.6" height="4.6" fill="#0a0af0"/>
<rect x="615.05" y="54.64" width="4.6" height="4.6" fill="#0a0af0"/>
<rect x="617.80" y="54.96" width="4.6" height="4.6" fill="#0a0af0"/>
<rect x="620.56" y="55.98" width="4.6" height="4.6" fill="#0a0af0"/>
<rect x="623.31" y="53.34" width="4.6" height="4.6" fill="#0a0af0"/>
<rect x="626.07" y="55.67" width="4.6" height="4.6" fill="#0a0af0"/>
<rect x="628.82" y="57.75" width="4.6" height="4.6" fill="#0a0af0"/>
<rect x="631.57" y="57.50" width="4.6" height="4.6" fill="#0a0af0"/>
<rect x="634.33" y="55.79" width="4.6" height="4.6" fill="#0a0af0"/>
<rect x="637.08" y="56.09" width="4.6" height="4.6" fill="#0a0af0"/>
<rect x="639.84" y="56.07" width="4.6" height="4.6" fill="#0a0af0"/>
<rect x="642.59" y="56.06" width="4.6" height="4.6" fill="#0a0af0"/>
<rect x="645.34" y="55.02" width="4.6" height="4.6" fill="#0a0af0"/>
<rect x="648.10" y="55.79" width="4.6" height="4.6" fill="#0a0af0"/>
<rect x="650.85" y="53.61" width="4.6" height="4.6" fill="#0a0af0"/>
<rect x="653.61" y="51.40" width="4.6" height="4.6" fill="#0a0af0"/>
<rect x="656.36" y="51.95" width="4.6" height="4.6" fill="#0a0af0"/>
<rect x="659.11" y="54.21" width="4.6" height="4.6" fill="#0a0af0"/>
<rect x="661.87" y="54.91" width="4.6" height="4.6" fill="#0a0af0"/>
<rect x="664.62" y="56.79" width="4.6" height="4.6" fill="#0a0af0"/>
<rect x="667.38" y="54.10" width="4.6" height="4.6" fill="#0a0af0"/>
<rect x="670.13" y="51.95" width="4.6" height="4.6" fill="#0a0af0"/>
<rect x="672.88" y="57.71" width="4.6" height="4.6" fill="#0a0af0"/>
<rect x="675.64" y="58.95" width="4.6" height="4.6" fill="#0a0af0"/>
<rect x="678.39" y="58.31" width="4.6" height="4.6" fill="#0a0af0"/>
<rect x="681.15" y="57.94" width="4.6" height="4.6" fill="#0a0af0"/>
<rect x="683.90" y="56.79" width="4.6" height="4.6" fill="#0a0af0"/>
<circle cx="413.55" cy="131.84" r="3.45" fill="#fff0c6" stroke="#ff4a45" stroke-width="1.05"/>
<circle cx="416.31" cy="119.00" r="3.45" fill="#fff0c6" stroke="#ff4a45" stroke-width="1.05"/>
<circle cx="419.06" cy="98.39" r="3.45" fill="#fff0c6" stroke="#ff4a45" stroke-width="1.05"/>
<circle cx="421.82" cy="88.24" r="3.45" fill="#fff0c6" stroke="#ff4a45" stroke-width="1.05"/>
<circle cx="424.57" cy="83.55" r="3.45" fill="#fff0c6" stroke="#ff4a45" stroke-width="1.05"/>
<circle cx="427.32" cy="81.47" r="3.45" fill="#fff0c6" stroke="#ff4a45" stroke-width="1.05"/>
<circle cx="430.08" cy="80.48" r="3.45" fill="#fff0c6" stroke="#ff4a45" stroke-width="1.05"/>
<circle cx="432.83" cy="81.46" r="3.45" fill="#fff0c6" stroke="#ff4a45" stroke-width="1.05"/>
<circle cx="435.59" cy="82.72" r="3.45" fill="#fff0c6" stroke="#ff4a45" stroke-width="1.05"/>
<circle cx="438.34" cy="84.12" r="3.45" fill="#fff0c6" stroke="#ff4a45" stroke-width="1.05"/>
<circle cx="441.09" cy="86.55" r="3.45" fill="#fff0c6" stroke="#ff4a45" stroke-width="1.05"/>
<circle cx="443.85" cy="83.89" r="3.45" fill="#fff0c6" stroke="#ff4a45" stroke-width="1.05"/>
<circle cx="446.60" cy="85.34" r="3.45" fill="#fff0c6" stroke="#ff4a45" stroke-width="1.05"/>
<circle cx="449.36" cy="87.75" r="3.45" fill="#fff0c6" stroke="#ff4a45" stroke-width="1.05"/>
<circle cx="452.11" cy="90.44" r="3.45" fill="#fff0c6" stroke="#ff4a45" stroke-width="1.05"/>
<circle cx="454.86" cy="93.14" r="3.45" fill="#fff0c6" stroke="#ff4a45" stroke-width="1.05"/>
<circle cx="457.62" cy="96.21" r="3.45" fill="#fff0c6" stroke="#ff4a45" stroke-width="1.05"/>
<circle cx="460.37" cy="100.28" r="3.45" fill="#fff0c6" stroke="#ff4a45" stroke-width="1.05"/>
<circle cx="463.13" cy="100.06" r="3.45" fill="#fff0c6" stroke="#ff4a45" stroke-width="1.05"/>
<circle cx="465.88" cy="102.20" r="3.45" fill="#fff0c6" stroke="#ff4a45" stroke-width="1.05"/>
<circle cx="468.63" cy="104.61" r="3.45" fill="#fff0c6" stroke="#ff4a45" stroke-width="1.05"/>
<circle cx="471.39" cy="106.88" r="3.45" fill="#fff0c6" stroke="#ff4a45" stroke-width="1.05"/>
<circle cx="474.14" cy="109.67" r="3.45" fill="#fff0c6" stroke="#ff4a45" stroke-width="1.05"/>
<circle cx="476.90" cy="111.89" r="3.45" fill="#fff0c6" stroke="#ff4a45" stroke-width="1.05"/>
<circle cx="479.65" cy="114.95" r="3.45" fill="#fff0c6" stroke="#ff4a45" stroke-width="1.05"/>
<circle cx="482.40" cy="117.88" r="3.45" fill="#fff0c6" stroke="#ff4a45" stroke-width="1.05"/>
<circle cx="485.16" cy="120.01" r="3.45" fill="#fff0c6" stroke="#ff4a45" stroke-width="1.05"/>
<circle cx="487.91" cy="121.20" r="3.45" fill="#fff0c6" stroke="#ff4a45" stroke-width="1.05"/>
<circle cx="490.67" cy="121.54" r="3.45" fill="#fff0c6" stroke="#ff4a45" stroke-width="1.05"/>
<circle cx="493.42" cy="121.54" r="3.45" fill="#fff0c6" stroke="#ff4a45" stroke-width="1.05"/>
<circle cx="496.17" cy="121.40" r="3.45" fill="#fff0c6" stroke="#ff4a45" stroke-width="1.05"/>
<circle cx="498.93" cy="121.37" r="3.45" fill="#fff0c6" stroke="#ff4a45" stroke-width="1.05"/>
<circle cx="501.68" cy="122.26" r="3.45" fill="#fff0c6" stroke="#ff4a45" stroke-width="1.05"/>
<circle cx="504.44" cy="124.11" r="3.45" fill="#fff0c6" stroke="#ff4a45" stroke-width="1.05"/>
<circle cx="507.19" cy="125.91" r="3.45" fill="#fff0c6" stroke="#ff4a45" stroke-width="1.05"/>
<circle cx="509.94" cy="127.58" r="3.45" fill="#fff0c6" stroke="#ff4a45" stroke-width="1.05"/>
<circle cx="512.70" cy="129.09" r="3.45" fill="#fff0c6" stroke="#ff4a45" stroke-width="1.05"/>
<circle cx="515.45" cy="130.44" r="3.45" fill="#fff0c6" stroke="#ff4a45" stroke-width="1.05"/>
<circle cx="518.21" cy="132.21" r="3.45" fill="#fff0c6" stroke="#ff4a45" stroke-width="1.05"/>
<circle cx="520.96" cy="132.98" r="3.45" fill="#fff0c6" stroke="#ff4a45" stroke-width="1.05"/>
<circle cx="523.71" cy="131.74" r="3.45" fill="#fff0c6" stroke="#ff4a45" stroke-width="1.05"/>
<circle cx="526.47" cy="129.81" r="3.45" fill="#fff0c6" stroke="#ff4a45" stroke-width="1.05"/>
<circle cx="529.22" cy="128.39" r="3.45" fill="#fff0c6" stroke="#ff4a45" stroke-width="1.05"/>
<circle cx="531.98" cy="127.17" r="3.45" fill="#fff0c6" stroke="#ff4a45" stroke-width="1.05"/>
<circle cx="534.73" cy="126.85" r="3.45" fill="#fff0c6" stroke="#ff4a45" stroke-width="1.05"/>
<circle cx="537.48" cy="126.39" r="3.45" fill="#fff0c6" stroke="#ff4a45" stroke-width="1.05"/>
<circle cx="540.24" cy="127.32" r="3.45" fill="#fff0c6" stroke="#ff4a45" stroke-width="1.05"/>
<circle cx="542.99" cy="126.86" r="3.45" fill="#fff0c6" stroke="#ff4a45" stroke-width="1.05"/>
<circle cx="545.75" cy="126.40" r="3.45" fill="#fff0c6" stroke="#ff4a45" stroke-width="1.05"/>
<circle cx="548.50" cy="125.92" r="3.45" fill="#fff0c6" stroke="#ff4a45" stroke-width="1.05"/>
<circle cx="551.25" cy="125.45" r="3.45" fill="#fff0c6" stroke="#ff4a45" stroke-width="1.05"/>
<circle cx="554.01" cy="126.40" r="3.45" fill="#fff0c6" stroke="#ff4a45" stroke-width="1.05"/>
<circle cx="556.76" cy="127.42" r="3.45" fill="#fff0c6" stroke="#ff4a45" stroke-width="1.05"/>
<circle cx="559.52" cy="128.35" r="3.45" fill="#fff0c6" stroke="#ff4a45" stroke-width="1.05"/>
<circle cx="562.27" cy="129.28" r="3.45" fill="#fff0c6" stroke="#ff4a45" stroke-width="1.05"/>
<circle cx="565.02" cy="130.69" r="3.45" fill="#fff0c6" stroke="#ff4a45" stroke-width="1.05"/>
<circle cx="567.78" cy="132.21" r="3.45" fill="#fff0c6" stroke="#ff4a45" stroke-width="1.05"/>
<circle cx="570.53" cy="133.70" r="3.45" fill="#fff0c6" stroke="#ff4a45" stroke-width="1.05"/>
<circle cx="573.29" cy="135.15" r="3.45" fill="#fff0c6" stroke="#ff4a45" stroke-width="1.05"/>
<circle cx="576.04" cy="134.13" r="3.45" fill="#fff0c6" stroke="#ff4a45" stroke-width="1.05"/>
<circle cx="578.79" cy="132.24" r="3.45" fill="#fff0c6" stroke="#ff4a45" stroke-width="1.05"/>
<circle cx="581.55" cy="131.14" r="3.45" fill="#fff0c6" stroke="#ff4a45" stroke-width="1.05"/>
<circle cx="584.30" cy="130.35" r="3.45" fill="#fff0c6" stroke="#ff4a45" stroke-width="1.05"/>
<circle cx="587.06" cy="130.35" r="3.45" fill="#fff0c6" stroke="#ff4a45" stroke-width="1.05"/>
<circle cx="589.81" cy="130.37" r="3.45" fill="#fff0c6" stroke="#ff4a45" stroke-width="1.05"/>
<circle cx="592.56" cy="130.90" r="3.45" fill="#fff0c6" stroke="#ff4a45" stroke-width="1.05"/>
<circle cx="595.32" cy="131.43" r="3.45" fill="#fff0c6" stroke="#ff4a45" stroke-width="1.05"/>
<circle cx="598.07" cy="132.23" r="3.45" fill="#fff0c6" stroke="#ff4a45" stroke-width="1.05"/>
<circle cx="600.83" cy="133.09" r="3.45" fill="#fff0c6" stroke="#ff4a45" stroke-width="1.05"/>
<circle cx="603.58" cy="134.24" r="3.45" fill="#fff0c6" stroke="#ff4a45" stroke-width="1.05"/>
<circle cx="606.33" cy="135.63" r="3.45" fill="#fff0c6" stroke="#ff4a45" stroke-width="1.05"/>
<circle cx="609.09" cy="137.10" r="3.45" fill="#fff0c6" stroke="#ff4a45" stroke-width="1.05"/>
<circle cx="611.84" cy="138.76" r="3.45" fill="#fff0c6" stroke="#ff4a45" stroke-width="1.05"/>
<circle cx="614.60" cy="140.88" r="3.45" fill="#fff0c6" stroke="#ff4a45" stroke-width="1.05"/>
<circle cx="617.35" cy="143.69" r="3.45" fill="#fff0c6" stroke="#ff4a45" stroke-width="1.05"/>
<circle cx="620.10" cy="142.60" r="3.45" fill="#fff0c6" stroke="#ff4a45" stroke-width="1.05"/>
<circle cx="622.86" cy="144.08" r="3.45" fill="#fff0c6" stroke="#ff4a45" stroke-width="1.05"/>
<circle cx="625.61" cy="145.35" r="3.45" fill="#fff0c6" stroke="#ff4a45" stroke-width="1.05"/>
<circle cx="628.37" cy="146.70" r="3.45" fill="#fff0c6" stroke="#ff4a45" stroke-width="1.05"/>
<circle cx="631.12" cy="145.94" r="3.45" fill="#fff0c6" stroke="#ff4a45" stroke-width="1.05"/>
<circle cx="633.87" cy="143.88" r="3.45" fill="#fff0c6" stroke="#ff4a45" stroke-width="1.05"/>
<circle cx="636.63" cy="142.52" r="3.45" fill="#fff0c6" stroke="#ff4a45" stroke-width="1.05"/>
<circle cx="639.38" cy="141.79" r="3.45" fill="#fff0c6" stroke="#ff4a45" stroke-width="1.05"/>
<circle cx="642.14" cy="141.45" r="3.45" fill="#fff0c6" stroke="#ff4a45" stroke-width="1.05"/>
<circle cx="644.89" cy="142.18" r="3.45" fill="#fff0c6" stroke="#ff4a45" stroke-width="1.05"/>
<circle cx="647.64" cy="142.91" r="3.45" fill="#fff0c6" stroke="#ff4a45" stroke-width="1.05"/>
<circle cx="650.40" cy="143.84" r="3.45" fill="#fff0c6" stroke="#ff4a45" stroke-width="1.05"/>
<circle cx="653.15" cy="144.77" r="3.45" fill="#fff0c6" stroke="#ff4a45" stroke-width="1.05"/>
<circle cx="655.91" cy="147.61" r="3.45" fill="#fff0c6" stroke="#ff4a45" stroke-width="1.05"/>
<circle cx="658.66" cy="150.55" r="3.45" fill="#fff0c6" stroke="#ff4a45" stroke-width="1.05"/>
<circle cx="661.41" cy="151.97" r="3.45" fill="#fff0c6" stroke="#ff4a45" stroke-width="1.05"/>
<circle cx="664.17" cy="153.35" r="3.45" fill="#fff0c6" stroke="#ff4a45" stroke-width="1.05"/>
<circle cx="666.92" cy="153.35" r="3.45" fill="#fff0c6" stroke="#ff4a45" stroke-width="1.05"/>
<circle cx="669.68" cy="153.35" r="3.45" fill="#fff0c6" stroke="#ff4a45" stroke-width="1.05"/>
<circle cx="672.43" cy="154.95" r="3.45" fill="#fff0c6" stroke="#ff4a45" stroke-width="1.05"/>
<circle cx="675.18" cy="157.13" r="3.45" fill="#fff0c6" stroke="#ff4a45" stroke-width="1.05"/>
<circle cx="677.94" cy="155.91" r="3.45" fill="#fff0c6" stroke="#ff4a45" stroke-width="1.05"/>
<circle cx="680.69" cy="154.25" r="3.45" fill="#fff0c6" stroke="#ff4a45" stroke-width="1.05"/>
<circle cx="683.45" cy="151.60" r="3.45" fill="#fff0c6" stroke="#ff4a45" stroke-width="1.05"/>
<circle cx="686.20" cy="151.26" r="3.45" fill="#fff0c6" stroke="#ff4a45" stroke-width="1.05"/>
<line x1="178.13" y1="428.42" x2="182.52" y2="402.19" stroke="#8a8a8a" stroke-width="1"/>
<circle cx="178.13" cy="428.42" r="2.7" fill="#fff0c6" stroke="#ff4a45" stroke-width="0.95"/>
<circle cx="182.52" cy="402.19" r="2.7" fill="#fff0c6" stroke="#ff4a45" stroke-width="0.95"/>
<circle cx="186.91" cy="397.74" r="2.7" fill="#fff0c6" stroke="#ff4a45" stroke-width="0.95"/>
<circle cx="191.29" cy="393.44" r="2.7" fill="#fff0c6" stroke="#ff4a45" stroke-width="0.95"/>
<circle cx="195.68" cy="390.58" r="2.7" fill="#fff0c6" stroke="#ff4a45" stroke-width="0.95"/>
<circle cx="200.06" cy="388.43" r="2.7" fill="#fff0c6" stroke="#ff4a45" stroke-width="0.95"/>
<circle cx="204.44" cy="387.57" r="2.7" fill="#fff0c6" stroke="#ff4a45" stroke-width="0.95"/>
<circle cx="208.83" cy="386.56" r="2.7" fill="#fff0c6" stroke="#ff4a45" stroke-width="0.95"/>
<circle cx="213.22" cy="383.55" r="2.7" fill="#fff0c6" stroke="#ff4a45" stroke-width="0.95"/>
<circle cx="217.60" cy="382.98" r="2.7" fill="#fff0c6" stroke="#ff4a45" stroke-width="0.95"/>
<circle cx="221.99" cy="383.84" r="2.7" fill="#fff0c6" stroke="#ff4a45" stroke-width="0.95"/>
<circle cx="226.37" cy="385.13" r="2.7" fill="#fff0c6" stroke="#ff4a45" stroke-width="0.95"/>
<circle cx="230.75" cy="386.99" r="2.7" fill="#fff0c6" stroke="#ff4a45" stroke-width="0.95"/>
<circle cx="235.14" cy="388.71" r="2.7" fill="#fff0c6" stroke="#ff4a45" stroke-width="0.95"/>
<circle cx="243.91" cy="432.00" r="2.7" fill="#fff0c6" stroke="#ff4a45" stroke-width="0.95"/>
<circle cx="248.30" cy="435.87" r="2.7" fill="#fff0c6" stroke="#ff4a45" stroke-width="0.95"/>
<circle cx="252.68" cy="434.72" r="2.7" fill="#fff0c6" stroke="#ff4a45" stroke-width="0.95"/>
<circle cx="257.06" cy="434.72" r="2.7" fill="#fff0c6" stroke="#ff4a45" stroke-width="0.95"/>
<circle cx="261.45" cy="435.58" r="2.7" fill="#fff0c6" stroke="#ff4a45" stroke-width="0.95"/>
<circle cx="265.83" cy="436.01" r="2.7" fill="#fff0c6" stroke="#ff4a45" stroke-width="0.95"/>
<circle cx="270.22" cy="436.87" r="2.7" fill="#fff0c6" stroke="#ff4a45" stroke-width="0.95"/>
<circle cx="274.61" cy="443.04" r="2.7" fill="#fff0c6" stroke="#ff4a45" stroke-width="0.95"/>
<circle cx="278.99" cy="441.32" r="2.7" fill="#fff0c6" stroke="#ff4a45" stroke-width="0.95"/>
<circle cx="283.38" cy="439.45" r="2.7" fill="#fff0c6" stroke="#ff4a45" stroke-width="0.95"/>
<circle cx="292.14" cy="500.94" r="2.7" fill="#fff0c6" stroke="#ff4a45" stroke-width="0.95"/>
<circle cx="296.53" cy="501.36" r="2.7" fill="#fff0c6" stroke="#ff4a45" stroke-width="0.95"/>
<circle cx="300.91" cy="501.77" r="2.7" fill="#fff0c6" stroke="#ff4a45" stroke-width="0.95"/>
<circle cx="305.30" cy="502.19" r="2.7" fill="#fff0c6" stroke="#ff4a45" stroke-width="0.95"/>
<circle cx="309.69" cy="502.60" r="2.7" fill="#fff0c6" stroke="#ff4a45" stroke-width="0.95"/>
<circle cx="314.07" cy="503.01" r="2.7" fill="#fff0c6" stroke="#ff4a45" stroke-width="0.95"/>
<circle cx="318.45" cy="503.43" r="2.7" fill="#fff0c6" stroke="#ff4a45" stroke-width="0.95"/>
<circle cx="322.84" cy="503.84" r="2.7" fill="#fff0c6" stroke="#ff4a45" stroke-width="0.95"/>
<circle cx="327.23" cy="504.26" r="2.7" fill="#fff0c6" stroke="#ff4a45" stroke-width="0.95"/>
<circle cx="331.61" cy="504.67" r="2.7" fill="#fff0c6" stroke="#ff4a45" stroke-width="0.95"/>
<circle cx="340.38" cy="527.46" r="2.7" fill="#fff0c6" stroke="#ff4a45" stroke-width="0.95"/>
<circle cx="344.76" cy="527.46" r="2.7" fill="#fff0c6" stroke="#ff4a45" stroke-width="0.95"/>
<circle cx="349.15" cy="527.46" r="2.7" fill="#fff0c6" stroke="#ff4a45" stroke-width="0.95"/>
<circle cx="353.53" cy="527.46" r="2.7" fill="#fff0c6" stroke="#ff4a45" stroke-width="0.95"/>
<circle cx="357.92" cy="527.46" r="2.7" fill="#fff0c6" stroke="#ff4a45" stroke-width="0.95"/>
<circle cx="362.30" cy="527.46" r="2.7" fill="#fff0c6" stroke="#ff4a45" stroke-width="0.95"/>
<circle cx="366.69" cy="527.46" r="2.7" fill="#fff0c6" stroke="#ff4a45" stroke-width="0.95"/>
<circle cx="371.07" cy="527.46" r="2.7" fill="#fff0c6" stroke="#ff4a45" stroke-width="0.95"/>
<circle cx="375.46" cy="527.46" r="2.7" fill="#fff0c6" stroke="#ff4a45" stroke-width="0.95"/>
<circle cx="379.85" cy="527.46" r="2.7" fill="#fff0c6" stroke="#ff4a45" stroke-width="0.95"/>
<circle cx="388.62" cy="502.66" r="2.7" fill="#fff0c6" stroke="#ff4a45" stroke-width="0.95"/>
<circle cx="393.00" cy="502.99" r="2.7" fill="#fff0c6" stroke="#ff4a45" stroke-width="0.95"/>
<circle cx="397.38" cy="503.32" r="2.7" fill="#fff0c6" stroke="#ff4a45" stroke-width="0.95"/>
<circle cx="401.77" cy="503.65" r="2.7" fill="#fff0c6" stroke="#ff4a45" stroke-width="0.95"/>
<circle cx="406.15" cy="503.98" r="2.7" fill="#fff0c6" stroke="#ff4a45" stroke-width="0.95"/>
<circle cx="410.54" cy="504.31" r="2.7" fill="#fff0c6" stroke="#ff4a45" stroke-width="0.95"/>
<circle cx="414.92" cy="504.64" r="2.7" fill="#fff0c6" stroke="#ff4a45" stroke-width="0.95"/>
<circle cx="419.31" cy="504.97" r="2.7" fill="#fff0c6" stroke="#ff4a45" stroke-width="0.95"/>
<circle cx="423.69" cy="505.30" r="2.7" fill="#fff0c6" stroke="#ff4a45" stroke-width="0.95"/>
<circle cx="428.08" cy="505.63" r="2.7" fill="#fff0c6" stroke="#ff4a45" stroke-width="0.95"/>
<circle cx="432.46" cy="505.96" r="2.7" fill="#fff0c6" stroke="#ff4a45" stroke-width="0.95"/>
<circle cx="441.24" cy="439.45" r="2.7" fill="#fff0c6" stroke="#ff4a45" stroke-width="0.95"/>
<circle cx="445.62" cy="440.40" r="2.7" fill="#fff0c6" stroke="#ff4a45" stroke-width="0.95"/>
<circle cx="450.00" cy="441.35" r="2.7" fill="#fff0c6" stroke="#ff4a45" stroke-width="0.95"/>
<circle cx="454.39" cy="442.29" r="2.7" fill="#fff0c6" stroke="#ff4a45" stroke-width="0.95"/>
<circle cx="458.77" cy="443.24" r="2.7" fill="#fff0c6" stroke="#ff4a45" stroke-width="0.95"/>
<circle cx="463.16" cy="444.18" r="2.7" fill="#fff0c6" stroke="#ff4a45" stroke-width="0.95"/>
<circle cx="467.54" cy="445.13" r="2.7" fill="#fff0c6" stroke="#ff4a45" stroke-width="0.95"/>
<circle cx="471.93" cy="446.08" r="2.7" fill="#fff0c6" stroke="#ff4a45" stroke-width="0.95"/>
<circle cx="476.31" cy="447.02" r="2.7" fill="#fff0c6" stroke="#ff4a45" stroke-width="0.95"/>
<circle cx="480.70" cy="447.97" r="2.7" fill="#fff0c6" stroke="#ff4a45" stroke-width="0.95"/>
<circle cx="485.08" cy="448.91" r="2.7" fill="#fff0c6" stroke="#ff4a45" stroke-width="0.95"/>
<circle cx="493.85" cy="399.75" r="2.7" fill="#fff0c6" stroke="#ff4a45" stroke-width="0.95"/>
<circle cx="498.24" cy="398.03" r="2.7" fill="#fff0c6" stroke="#ff4a45" stroke-width="0.95"/>
<circle cx="502.62" cy="397.17" r="2.7" fill="#fff0c6" stroke="#ff4a45" stroke-width="0.95"/>
<circle cx="507.01" cy="397.17" r="2.7" fill="#fff0c6" stroke="#ff4a45" stroke-width="0.95"/>
<circle cx="511.39" cy="397.46" r="2.7" fill="#fff0c6" stroke="#ff4a45" stroke-width="0.95"/>
<circle cx="515.78" cy="398.17" r="2.7" fill="#fff0c6" stroke="#ff4a45" stroke-width="0.95"/>
<circle cx="520.16" cy="398.89" r="2.7" fill="#fff0c6" stroke="#ff4a45" stroke-width="0.95"/>
<circle cx="524.55" cy="400.18" r="2.7" fill="#fff0c6" stroke="#ff4a45" stroke-width="0.95"/>
<circle cx="528.93" cy="401.90" r="2.7" fill="#fff0c6" stroke="#ff4a45" stroke-width="0.95"/>
<circle cx="533.32" cy="403.33" r="2.7" fill="#fff0c6" stroke="#ff4a45" stroke-width="0.95"/>
<circle cx="537.70" cy="404.19" r="2.7" fill="#fff0c6" stroke="#ff4a45" stroke-width="0.95"/>
<circle cx="542.09" cy="403.33" r="2.7" fill="#fff0c6" stroke="#ff4a45" stroke-width="0.95"/>
<circle cx="546.47" cy="401.90" r="2.7" fill="#fff0c6" stroke="#ff4a45" stroke-width="0.95"/>
<circle cx="550.86" cy="401.33" r="2.7" fill="#fff0c6" stroke="#ff4a45" stroke-width="0.95"/>
<circle cx="555.25" cy="400.61" r="2.7" fill="#fff0c6" stroke="#ff4a45" stroke-width="0.95"/>
<circle cx="559.63" cy="400.47" r="2.7" fill="#fff0c6" stroke="#ff4a45" stroke-width="0.95"/>
<circle cx="564.01" cy="400.47" r="2.7" fill="#fff0c6" stroke="#ff4a45" stroke-width="0.95"/>
<circle cx="568.40" cy="400.75" r="2.7" fill="#fff0c6" stroke="#ff4a45" stroke-width="0.95"/>
<path d="M188.39,694.72 L189.80,614.40" fill="none" stroke="#5a5aff" stroke-width="1"/>
<path d="M189.80,601.20 L200.00,600.90 L215.00,600.40 L230.00,600.20 L260.00,600.60 L300.00,601.00 L340.00,601.30 L378.00,601.50 L430.00,601.50 L480.00,601.30 L530.00,601.50 L580.00,601.60" fill="none" stroke="#0a0af0" stroke-width="4.4" stroke-linejoin="round"/>
<rect x="188.0" y="612.0" width="3.6" height="4.8" fill="#0a0af0"/>
<rect x="188.9" y="609.2" width="3.6" height="4.4" fill="#0a0af0"/>
<rect x="189.8" y="606.4" width="3.6" height="4.2" fill="#0a0af0"/>
<rect x="197.1" y="600" width="4.6" height="10.6" fill="#0a0af0"/>
<rect x="223.7" y="595.6" width="4.8" height="8.2" fill="#0a0af0"/>
<rect x="378.2" y="596.2" width="4.4" height="7.4" fill="#0a0af0"/>
<rect x="377" y="600" width="4.0" height="4.5" fill="#0a0af0"/>
<rect x="185.99" y="692.32" width="4.8" height="4.8" fill="#0a0af0"/>
<path d="M189.3,653.1 L192.2,688.9 L188.3,706.9" fill="none" stroke="#8a8a8a" stroke-width="1"/>
<circle cx="188.30" cy="706.90" r="3.1" fill="#fff0c6" stroke="#ff4a45" stroke-width="0.95"/>
<circle cx="189.30" cy="653.10" r="3.1" fill="#fff0c6" stroke="#ff4a45" stroke-width="0.95"/>
<circle cx="189.70" cy="663.10" r="3.1" fill="#fff0c6" stroke="#ff4a45" stroke-width="0.95"/>
<circle cx="190.70" cy="668.10" r="3.1" fill="#fff0c6" stroke="#ff4a45" stroke-width="0.95"/>
<circle cx="191.50" cy="673.10" r="3.1" fill="#fff0c6" stroke="#ff4a45" stroke-width="0.95"/>
<circle cx="192.40" cy="688.90" r="3.1" fill="#fff0c6" stroke="#ff4a45" stroke-width="0.95"/>
<path d="M193.70,701.10 L194.75,701.39 L196.17,701.79 L197.87,702.27 L199.75,702.76 L201.69,703.22 L203.60,703.60 L205.59,703.89 L207.78,704.13 L210.03,704.33 L212.23,704.52 L214.26,704.70 L216.00,704.90 L217.32,705.11 L218.30,705.31 L219.10,705.51 L219.90,705.70 L220.88,705.90 L222.20,706.10 L223.91,706.32 L225.87,706.55 L228.01,706.79 L230.24,707.00 L232.46,707.18 L234.60,707.30 L236.67,707.31 L238.73,707.23 L240.80,707.11 L242.87,707.00 L244.93,706.98 L247.00,707.10 L249.03,707.38 L251.01,707.79 L253.00,708.28 L255.03,708.81 L257.15,709.33 L259.40,709.80 L261.84,710.23 L264.45,710.66 L267.14,711.08 L269.85,711.50 L272.50,711.90 L275.00,712.30 L277.31,712.66 L279.49,712.97 L281.59,713.27 L283.71,713.61 L285.92,714.00 L288.30,714.50 L290.86,715.10 L293.56,715.78 L296.34,716.52 L299.17,717.32 L302.01,718.15 L304.80,719.00 L307.60,719.92 L310.45,720.91 L313.31,721.95 L316.11,722.97 L318.83,723.94 L321.40,724.80 L323.78,725.57 L326.00,726.30 L328.12,726.97 L330.22,727.57 L332.36,728.08 L334.60,728.50 L336.95,728.78 L339.36,728.91 L341.81,728.96 L344.27,728.99 L346.74,729.05 L349.20,729.20 L351.65,729.45 L354.10,729.75 L356.55,730.08 L359.00,730.43 L361.45,730.78 L363.90,731.10 L366.34,731.38 L368.77,731.64 L371.21,731.89 L373.64,732.17 L376.07,732.50 L378.50,732.90 L380.93,733.42 L383.37,734.03 L385.80,734.69 L388.23,735.36 L390.67,735.98 L393.10,736.50 L395.58,736.92 L398.10,737.26 L400.63,737.56 L403.10,737.84 L405.48,738.11 L407.70,738.40 L409.66,738.69 L411.36,738.97 L412.97,739.24 L414.63,739.52 L416.49,739.84 L418.70,740.20 L421.29,740.62 L424.13,741.10 L427.17,741.60 L430.36,742.11 L433.66,742.62 L437.00,743.10 L440.44,743.54 L444.03,743.95 L447.73,744.36 L451.47,744.77 L455.21,745.21 L458.90,745.70 L462.55,746.25 L466.20,746.86 L469.85,747.50 L473.50,748.14 L477.15,748.75 L480.80,749.30 L484.49,749.80 L488.23,750.26 L491.98,750.69 L495.67,751.10 L499.26,751.50 L502.70,751.90 L505.96,752.30 L509.07,752.69 L512.08,753.07 L515.03,753.43 L517.99,753.78 L521.00,754.10 L524.05,754.40 L527.10,754.67 L530.15,754.92 L533.20,755.16 L536.25,755.38 L539.30,755.60 L542.33,755.82 L545.32,756.04 L548.32,756.26 L551.34,756.44 L554.43,756.60 L557.60,756.70 L561.11,756.74 L565.00,756.72 L568.94,756.67 L572.63,756.60 L575.76,756.54 L578.00,756.50" fill="none" stroke="#ff1f1f" stroke-width="7.4" stroke-linejoin="round" stroke-linecap="round"/>
<path d="M193.70,701.10 L194.75,701.39 L196.17,701.79 L197.87,702.27 L199.75,702.76 L201.69,703.22 L203.60,703.60 L205.59,703.89 L207.78,704.13 L210.03,704.33 L212.23,704.52 L214.26,704.70 L216.00,704.90 L217.32,705.11 L218.30,705.31 L219.10,705.51 L219.90,705.70 L220.88,705.90 L222.20,706.10 L223.91,706.32 L225.87,706.55 L228.01,706.79 L230.24,707.00 L232.46,707.18 L234.60,707.30 L236.67,707.31 L238.73,707.23 L240.80,707.11 L242.87,707.00 L244.93,706.98 L247.00,707.10 L249.03,707.38 L251.01,707.79 L253.00,708.28 L255.03,708.81 L257.15,709.33 L259.40,709.80 L261.84,710.23 L264.45,710.66 L267.14,711.08 L269.85,711.50 L272.50,711.90 L275.00,712.30 L277.31,712.66 L279.49,712.97 L281.59,713.27 L283.71,713.61 L285.92,714.00 L288.30,714.50 L290.86,715.10 L293.56,715.78 L296.34,716.52 L299.17,717.32 L302.01,718.15 L304.80,719.00 L307.60,719.92 L310.45,720.91 L313.31,721.95 L316.11,722.97 L318.83,723.94 L321.40,724.80 L323.78,725.57 L326.00,726.30 L328.12,726.97 L330.22,727.57 L332.36,728.08 L334.60,728.50 L336.95,728.78 L339.36,728.91 L341.81,728.96 L344.27,728.99 L346.74,729.05 L349.20,729.20 L351.65,729.45 L354.10,729.75 L356.55,730.08 L359.00,730.43 L361.45,730.78 L363.90,731.10 L366.34,731.38 L368.77,731.64 L371.21,731.89 L373.64,732.17 L376.07,732.50 L378.50,732.90 L380.93,733.42 L383.37,734.03 L385.80,734.69 L388.23,735.36 L390.67,735.98 L393.10,736.50 L395.58,736.92 L398.10,737.26 L400.63,737.56 L403.10,737.84 L405.48,738.11 L407.70,738.40 L409.66,738.69 L411.36,738.97 L412.97,739.24 L414.63,739.52 L416.49,739.84 L418.70,740.20 L421.29,740.62 L424.13,741.10 L427.17,741.60 L430.36,742.11 L433.66,742.62 L437.00,743.10 L440.44,743.54 L444.03,743.95 L447.73,744.36 L451.47,744.77 L455.21,745.21 L458.90,745.70 L462.55,746.25 L466.20,746.86 L469.85,747.50 L473.50,748.14 L477.15,748.75 L480.80,749.30 L484.49,749.80 L488.23,750.26 L491.98,750.69 L495.67,751.10 L499.26,751.50 L502.70,751.90 L505.96,752.30 L509.07,752.69 L512.08,753.07 L515.03,753.43 L517.99,753.78 L521.00,754.10 L524.05,754.40 L527.10,754.67 L530.15,754.92 L533.20,755.16 L536.25,755.38 L539.30,755.60 L542.33,755.82 L545.32,756.04 L548.32,756.26 L551.34,756.44 L554.43,756.60 L557.60,756.70 L561.11,756.74 L565.00,756.72 L568.94,756.67 L572.63,756.60 L575.76,756.54 L578.00,756.50" fill="none" stroke="#ff5050" stroke-width="3.4" stroke-linejoin="round" stroke-linecap="round"/>
<circle cx="194.8" cy="699.2" r="3.3" fill="#ff6a5a" stroke="#ff1f1f" stroke-width="1.1"/>
<circle cx="197.6" cy="697.6" r="3.3" fill="#ff6a5a" stroke="#ff1f1f" stroke-width="1.1"/>
<circle cx="200.6" cy="699.8" r="3.3" fill="#ff6a5a" stroke="#ff1f1f" stroke-width="1.1"/>
<rect x="173.75" y="320.1" width="416.85" height="215.5" fill="none" stroke="#000" stroke-width="2.3"/>
<path d="M408.1,29.65 H686.3 V253.5" fill="none" stroke="#0000ff" stroke-width="2.4"/>
<path d="M408.1,29.65 V253.5 H686.3" fill="none" stroke="#000" stroke-width="2.3"/>
<path d="M183.7,585.7 H580.3 V800.3" fill="none" stroke="#0000ff" stroke-width="2.4"/>
<path d="M183.7,585.7 V800.3 H580.3" fill="none" stroke="#000" stroke-width="2.3"/>
<text x="0.50" y="14.80" font-size="20" text-anchor="start" fill="#000" stroke="#000" stroke-width="0.22">(a)</text>
<line x1="44.90" y1="251.00" x2="44.90" y2="256.00" stroke="#000" stroke-width="2.3" stroke-linecap="butt"/>
<text x="44.90" y="267.90" font-size="11.0" text-anchor="middle" fill="#000" stroke="#000" stroke-width="0.22">0</text>
<line x1="85.14" y1="251.00" x2="85.14" y2="256.00" stroke="#000" stroke-width="2.3" stroke-linecap="butt"/>
<text x="85.14" y="267.90" font-size="11.0" text-anchor="middle" fill="#000" stroke="#000" stroke-width="0.22">20</text>
<line x1="125.39" y1="251.00" x2="125.39" y2="256.00" stroke="#000" stroke-width="2.3" stroke-linecap="butt"/>
<text x="125.39" y="267.90" font-size="11.0" text-anchor="middle" fill="#000" stroke="#000" stroke-width="0.22">40</text>
<line x1="165.63" y1="251.00" x2="165.63" y2="256.00" stroke="#000" stroke-width="2.3" stroke-linecap="butt"/>
<text x="165.63" y="267.90" font-size="11.0" text-anchor="middle" fill="#000" stroke="#000" stroke-width="0.22">60</text>
<line x1="205.87" y1="251.00" x2="205.87" y2="256.00" stroke="#000" stroke-width="2.3" stroke-linecap="butt"/>
<text x="205.87" y="267.90" font-size="11.0" text-anchor="middle" fill="#000" stroke="#000" stroke-width="0.22">80</text>
<line x1="246.11" y1="251.00" x2="246.11" y2="256.00" stroke="#000" stroke-width="2.3" stroke-linecap="butt"/>
<text x="246.11" y="267.90" font-size="11.0" text-anchor="middle" fill="#000" stroke="#000" stroke-width="0.22">100</text>
<line x1="286.36" y1="251.00" x2="286.36" y2="256.00" stroke="#000" stroke-width="2.3" stroke-linecap="butt"/>
<text x="286.36" y="267.90" font-size="11.0" text-anchor="middle" fill="#000" stroke="#000" stroke-width="0.22">120</text>
<line x1="326.60" y1="251.00" x2="326.60" y2="256.00" stroke="#000" stroke-width="2.3" stroke-linecap="butt"/>
<text x="326.60" y="267.90" font-size="11.0" text-anchor="middle" fill="#000" stroke="#000" stroke-width="0.22">140</text>
<line x1="39.50" y1="243.70" x2="44.70" y2="243.70" stroke="#000" stroke-width="2.3" stroke-linecap="butt"/>
<text x="37.00" y="247.60" font-size="11.0" text-anchor="end" fill="#000" stroke="#000" stroke-width="0.22">1.0</text>
<line x1="39.50" y1="215.34" x2="44.70" y2="215.34" stroke="#000" stroke-width="2.3" stroke-linecap="butt"/>
<text x="37.00" y="219.24" font-size="11.0" text-anchor="end" fill="#000" stroke="#000" stroke-width="0.22">1.2</text>
<line x1="39.50" y1="186.98" x2="44.70" y2="186.98" stroke="#000" stroke-width="2.3" stroke-linecap="butt"/>
<text x="37.00" y="190.88" font-size="11.0" text-anchor="end" fill="#000" stroke="#000" stroke-width="0.22">1.4</text>
<line x1="39.50" y1="158.62" x2="44.70" y2="158.62" stroke="#000" stroke-width="2.3" stroke-linecap="butt"/>
<text x="37.00" y="162.52" font-size="11.0" text-anchor="end" fill="#000" stroke="#000" stroke-width="0.22">1.6</text>
<line x1="39.50" y1="130.26" x2="44.70" y2="130.26" stroke="#000" stroke-width="2.3" stroke-linecap="butt"/>
<text x="37.00" y="134.16" font-size="11.0" text-anchor="end" fill="#000" stroke="#000" stroke-width="0.22">1.8</text>
<line x1="39.50" y1="101.90" x2="44.70" y2="101.90" stroke="#000" stroke-width="2.3" stroke-linecap="butt"/>
<text x="37.00" y="105.80" font-size="11.0" text-anchor="end" fill="#000" stroke="#000" stroke-width="0.22">2.0</text>
<line x1="39.50" y1="73.54" x2="44.70" y2="73.54" stroke="#000" stroke-width="2.3" stroke-linecap="butt"/>
<text x="37.00" y="77.44" font-size="11.0" text-anchor="end" fill="#000" stroke="#000" stroke-width="0.22">2.2</text>
<line x1="39.50" y1="45.18" x2="44.70" y2="45.18" stroke="#000" stroke-width="2.3" stroke-linecap="butt"/>
<text x="37.00" y="49.08" font-size="11.0" text-anchor="end" fill="#000" stroke="#000" stroke-width="0.22">2.4</text>
<text x="185.90" y="286.70" font-size="14" text-anchor="middle" fill="#000" stroke="#000" stroke-width="0.22">Discharge capacity (mAh/g)</text>
<text x="12.00" y="129.00" font-size="13.8" text-anchor="middle" fill="#000" stroke="#000" stroke-width="0.22" transform="rotate(-90 12.00 129.00)">Potential (V)</text>
<text x="264.70" y="135.80" font-size="9.4" text-anchor="start" fill="#000" stroke="#000" stroke-width="0.22">No. of cycles</text>
<line x1="279.20" y1="146.30" x2="301.00" y2="146.30" stroke="#111" stroke-width="1.8" stroke-linecap="butt"/>
<text x="302.80" y="149.30" font-size="9.0" text-anchor="start" fill="#000" stroke="#000" stroke-width="0.22">1</text>
<line x1="279.20" y1="157.85" x2="301.00" y2="157.85" stroke="#f21c1c" stroke-width="1.8" stroke-linecap="butt"/>
<text x="302.80" y="160.85" font-size="9.0" text-anchor="start" fill="#000" stroke="#000" stroke-width="0.22">2</text>
<line x1="279.20" y1="169.40" x2="301.00" y2="169.40" stroke="#1c1cf2" stroke-width="1.8" stroke-linecap="butt"/>
<text x="302.80" y="172.40" font-size="9.0" text-anchor="start" fill="#000" stroke="#000" stroke-width="0.22">5</text>
<line x1="279.20" y1="180.95" x2="301.00" y2="180.95" stroke="#22e6ff" stroke-width="1.8" stroke-linecap="butt"/>
<text x="302.80" y="183.95" font-size="9.0" text-anchor="start" fill="#000" stroke="#000" stroke-width="0.22">10</text>
<line x1="279.20" y1="192.50" x2="301.00" y2="192.50" stroke="#f21cf2" stroke-width="1.8" stroke-linecap="butt"/>
<text x="302.80" y="195.50" font-size="9.0" text-anchor="start" fill="#000" stroke="#000" stroke-width="0.22">20</text>
<line x1="279.20" y1="204.05" x2="301.00" y2="204.05" stroke="#7a1c80" stroke-width="1.8" stroke-linecap="butt"/>
<text x="302.80" y="207.05" font-size="9.0" text-anchor="start" fill="#000" stroke="#000" stroke-width="0.22">50</text>
<line x1="279.20" y1="215.60" x2="301.00" y2="215.60" stroke="#1f8080" stroke-width="1.8" stroke-linecap="butt"/>
<text x="302.80" y="218.60" font-size="9.0" text-anchor="start" fill="#000" stroke="#000" stroke-width="0.22">100</text>
<text x="351.50" y="15.20" font-size="20.5" text-anchor="start" fill="#000" stroke="#000" stroke-width="0.22">(b)</text>
<line x1="410.80" y1="253.50" x2="410.80" y2="258.60" stroke="#000" stroke-width="2.3" stroke-linecap="butt"/>
<text x="410.80" y="270.70" font-size="11.0" text-anchor="middle" fill="#000" stroke="#000" stroke-width="0.22">0</text>
<line x1="465.88" y1="253.50" x2="465.88" y2="258.60" stroke="#000" stroke-width="2.3" stroke-linecap="butt"/>
<text x="465.88" y="270.70" font-size="11.0" text-anchor="middle" fill="#000" stroke="#000" stroke-width="0.22">20</text>
<line x1="520.96" y1="253.50" x2="520.96" y2="258.60" stroke="#000" stroke-width="2.3" stroke-linecap="butt"/>
<text x="520.96" y="270.70" font-size="11.0" text-anchor="middle" fill="#000" stroke="#000" stroke-width="0.22">40</text>
<line x1="576.04" y1="253.50" x2="576.04" y2="258.60" stroke="#000" stroke-width="2.3" stroke-linecap="butt"/>
<text x="576.04" y="270.70" font-size="11.0" text-anchor="middle" fill="#000" stroke="#000" stroke-width="0.22">60</text>
<line x1="631.12" y1="253.50" x2="631.12" y2="258.60" stroke="#000" stroke-width="2.3" stroke-linecap="butt"/>
<text x="631.12" y="270.70" font-size="11.0" text-anchor="middle" fill="#000" stroke="#000" stroke-width="0.22">80</text>
<line x1="686.20" y1="253.50" x2="686.20" y2="258.60" stroke="#000" stroke-width="2.3" stroke-linecap="butt"/>
<text x="686.20" y="270.70" font-size="11.0" text-anchor="middle" fill="#000" stroke="#000" stroke-width="0.22">100</text>
<line x1="403.20" y1="253.70" x2="408.10" y2="253.70" stroke="#000" stroke-width="2.3" stroke-linecap="butt"/>
<text x="400.40" y="257.60" font-size="11.0" text-anchor="end" fill="#000" stroke="#000" stroke-width="0.22">0</text>
<line x1="686.30" y1="253.70" x2="691.40" y2="253.70" stroke="#0000ff" stroke-width="2.4" stroke-linecap="butt"/>
<text x="693.80" y="257.60" font-size="11.0" text-anchor="start" fill="#0000ff" stroke="#0000ff" stroke-width="0.22">0</text>
<line x1="403.20" y1="208.90" x2="408.10" y2="208.90" stroke="#000" stroke-width="2.3" stroke-linecap="butt"/>
<text x="400.40" y="212.80" font-size="11.0" text-anchor="end" fill="#000" stroke="#000" stroke-width="0.22">30</text>
<line x1="686.30" y1="208.90" x2="691.40" y2="208.90" stroke="#0000ff" stroke-width="2.4" stroke-linecap="butt"/>
<text x="693.80" y="212.80" font-size="11.0" text-anchor="start" fill="#0000ff" stroke="#0000ff" stroke-width="0.22">20</text>
<line x1="403.20" y1="164.10" x2="408.10" y2="164.10" stroke="#000" stroke-width="2.3" stroke-linecap="butt"/>
<text x="400.40" y="168.00" font-size="11.0" text-anchor="end" fill="#000" stroke="#000" stroke-width="0.22">60</text>
<line x1="686.30" y1="164.10" x2="691.40" y2="164.10" stroke="#0000ff" stroke-width="2.4" stroke-linecap="butt"/>
<text x="693.80" y="168.00" font-size="11.0" text-anchor="start" fill="#0000ff" stroke="#0000ff" stroke-width="0.22">40</text>
<line x1="403.20" y1="119.30" x2="408.10" y2="119.30" stroke="#000" stroke-width="2.3" stroke-linecap="butt"/>
<text x="400.40" y="123.20" font-size="11.0" text-anchor="end" fill="#000" stroke="#000" stroke-width="0.22">90</text>
<line x1="686.30" y1="119.30" x2="691.40" y2="119.30" stroke="#0000ff" stroke-width="2.4" stroke-linecap="butt"/>
<text x="693.80" y="123.20" font-size="11.0" text-anchor="start" fill="#0000ff" stroke="#0000ff" stroke-width="0.22">60</text>
<line x1="403.20" y1="74.50" x2="408.10" y2="74.50" stroke="#000" stroke-width="2.3" stroke-linecap="butt"/>
<text x="400.40" y="78.40" font-size="11.0" text-anchor="end" fill="#000" stroke="#000" stroke-width="0.22">120</text>
<line x1="686.30" y1="74.50" x2="691.40" y2="74.50" stroke="#0000ff" stroke-width="2.4" stroke-linecap="butt"/>
<text x="693.80" y="78.40" font-size="11.0" text-anchor="start" fill="#0000ff" stroke="#0000ff" stroke-width="0.22">80</text>
<line x1="403.20" y1="29.70" x2="408.10" y2="29.70" stroke="#000" stroke-width="2.3" stroke-linecap="butt"/>
<text x="400.40" y="33.60" font-size="11.0" text-anchor="end" fill="#000" stroke="#000" stroke-width="0.22">150</text>
<line x1="686.30" y1="29.70" x2="691.40" y2="29.70" stroke="#0000ff" stroke-width="2.4" stroke-linecap="butt"/>
<text x="693.80" y="33.60" font-size="11.0" text-anchor="start" fill="#0000ff" stroke="#0000ff" stroke-width="0.22">100</text>
<text x="547.30" y="288.80" font-size="13.8" text-anchor="middle" fill="#000" stroke="#000" stroke-width="0.22">No. of cycles</text>
<text x="374.00" y="141.60" font-size="13.7" text-anchor="middle" fill="#000" stroke="#000" stroke-width="0.22" transform="rotate(-90 374.00 141.60)">Discharge capacity(mAh/g)</text>
<text x="724.60" y="142.30" font-size="13.9" text-anchor="middle" fill="#000" stroke="#000" stroke-width="0.22" transform="rotate(-90 724.60 142.30)">C.E.</text>
<text x="104.30" y="319.10" font-size="21" text-anchor="start" fill="#000" stroke="#000" stroke-width="0.22">(c)</text>
<line x1="173.75" y1="535.60" x2="173.75" y2="540.90" stroke="#000" stroke-width="2.3" stroke-linecap="butt"/>
<text x="173.75" y="552.00" font-size="10.0" text-anchor="middle" fill="#000" stroke="#000" stroke-width="0.22">0</text>
<line x1="261.45" y1="535.60" x2="261.45" y2="540.90" stroke="#000" stroke-width="2.3" stroke-linecap="butt"/>
<text x="261.45" y="552.00" font-size="10.0" text-anchor="middle" fill="#000" stroke="#000" stroke-width="0.22">20</text>
<line x1="349.15" y1="535.60" x2="349.15" y2="540.90" stroke="#000" stroke-width="2.3" stroke-linecap="butt"/>
<text x="349.15" y="552.00" font-size="10.0" text-anchor="middle" fill="#000" stroke="#000" stroke-width="0.22">40</text>
<line x1="436.85" y1="535.60" x2="436.85" y2="540.90" stroke="#000" stroke-width="2.3" stroke-linecap="butt"/>
<text x="436.85" y="552.00" font-size="10.0" text-anchor="middle" fill="#000" stroke="#000" stroke-width="0.22">60</text>
<line x1="524.55" y1="535.60" x2="524.55" y2="540.90" stroke="#000" stroke-width="2.3" stroke-linecap="butt"/>
<text x="524.55" y="552.00" font-size="10.0" text-anchor="middle" fill="#000" stroke="#000" stroke-width="0.22">80</text>
<line x1="168.50" y1="535.20" x2="173.75" y2="535.20" stroke="#000" stroke-width="2.3" stroke-linecap="butt"/>
<text x="166.00" y="538.80" font-size="10.0" text-anchor="end" fill="#000" stroke="#000" stroke-width="0.22">0</text>
<line x1="168.50" y1="492.20" x2="173.75" y2="492.20" stroke="#000" stroke-width="2.3" stroke-linecap="butt"/>
<text x="166.00" y="495.80" font-size="10.0" text-anchor="end" fill="#000" stroke="#000" stroke-width="0.22">30</text>
<line x1="168.50" y1="449.20" x2="173.75" y2="449.20" stroke="#000" stroke-width="2.3" stroke-linecap="butt"/>
<text x="166.00" y="452.80" font-size="10.0" text-anchor="end" fill="#000" stroke="#000" stroke-width="0.22">60</text>
<line x1="168.50" y1="406.20" x2="173.75" y2="406.20" stroke="#000" stroke-width="2.3" stroke-linecap="butt"/>
<text x="166.00" y="409.80" font-size="10.0" text-anchor="end" fill="#000" stroke="#000" stroke-width="0.22">90</text>
<line x1="168.50" y1="363.20" x2="173.75" y2="363.20" stroke="#000" stroke-width="2.3" stroke-linecap="butt"/>
<text x="166.00" y="366.80" font-size="10.0" text-anchor="end" fill="#000" stroke="#000" stroke-width="0.22">120</text>
<line x1="168.50" y1="320.20" x2="173.75" y2="320.20" stroke="#000" stroke-width="2.3" stroke-linecap="butt"/>
<text x="166.00" y="323.80" font-size="10.0" text-anchor="end" fill="#000" stroke="#000" stroke-width="0.22">150</text>
<text x="381.80" y="573.30" font-size="14.0" text-anchor="middle" fill="#000" stroke="#000" stroke-width="0.22">No. of cycles</text>
<text x="140.60" y="427.60" font-size="13.95" text-anchor="middle" fill="#000" stroke="#000" stroke-width="0.22" transform="rotate(-90 140.60 427.60)">Discharge capacity(mAh/g)</text>
<text x="182.80" y="367.80" font-size="9.85" text-anchor="start" fill="#000" stroke="#000" stroke-width="0.22">100 mA/g</text>
<text x="248.30" y="418.90" font-size="9.85" text-anchor="start" fill="#000" stroke="#000" stroke-width="0.22">200 mA/g</text>
<text x="284.30" y="484.10" font-size="9.85" text-anchor="start" fill="#000" stroke="#000" stroke-width="0.22">500 mA/g</text>
<text x="335.90" y="517.60" font-size="9.85" text-anchor="start" fill="#000" stroke="#000" stroke-width="0.22">1000 mA/g</text>
<text x="390.60" y="489.30" font-size="9.85" text-anchor="start" fill="#000" stroke="#000" stroke-width="0.22">500 mA/g</text>
<text x="458.10" y="430.20" font-size="9.85" text-anchor="start" fill="#000" stroke="#000" stroke-width="0.22">200 mA/g</text>
<text x="503.30" y="382.10" font-size="9.85" text-anchor="start" fill="#000" stroke="#000" stroke-width="0.22">100 mA/g</text>
<text x="104.60" y="583.70" font-size="21" text-anchor="start" fill="#000" stroke="#000" stroke-width="0.22">(d)</text>
<line x1="187.60" y1="800.30" x2="187.60" y2="805.20" stroke="#000" stroke-width="2.3" stroke-linecap="butt"/>
<text x="187.60" y="816.50" font-size="10.8" text-anchor="middle" fill="#000" stroke="#000" stroke-width="0.22">0</text>
<line x1="266.14" y1="800.30" x2="266.14" y2="805.20" stroke="#000" stroke-width="2.3" stroke-linecap="butt"/>
<text x="266.14" y="816.50" font-size="10.8" text-anchor="middle" fill="#000" stroke="#000" stroke-width="0.22">100</text>
<line x1="344.68" y1="800.30" x2="344.68" y2="805.20" stroke="#000" stroke-width="2.3" stroke-linecap="butt"/>
<text x="344.68" y="816.50" font-size="10.8" text-anchor="middle" fill="#000" stroke="#000" stroke-width="0.22">200</text>
<line x1="423.22" y1="800.30" x2="423.22" y2="805.20" stroke="#000" stroke-width="2.3" stroke-linecap="butt"/>
<text x="423.22" y="816.50" font-size="10.8" text-anchor="middle" fill="#000" stroke="#000" stroke-width="0.22">300</text>
<line x1="501.76" y1="800.30" x2="501.76" y2="805.20" stroke="#000" stroke-width="2.3" stroke-linecap="butt"/>
<text x="501.76" y="816.50" font-size="10.8" text-anchor="middle" fill="#000" stroke="#000" stroke-width="0.22">400</text>
<line x1="580.30" y1="800.30" x2="580.30" y2="805.20" stroke="#000" stroke-width="2.3" stroke-linecap="butt"/>
<text x="580.30" y="816.50" font-size="10.8" text-anchor="middle" fill="#000" stroke="#000" stroke-width="0.22">500</text>
<line x1="178.80" y1="800.30" x2="183.70" y2="800.30" stroke="#000" stroke-width="2.3" stroke-linecap="butt"/>
<text x="176.00" y="804.10" font-size="10.8" text-anchor="end" fill="#000" stroke="#000" stroke-width="0.22">0</text>
<line x1="178.80" y1="728.77" x2="183.70" y2="728.77" stroke="#000" stroke-width="2.3" stroke-linecap="butt"/>
<text x="176.00" y="732.57" font-size="10.8" text-anchor="end" fill="#000" stroke="#000" stroke-width="0.22">20</text>
<line x1="178.80" y1="657.23" x2="183.70" y2="657.23" stroke="#000" stroke-width="2.3" stroke-linecap="butt"/>
<text x="176.00" y="661.03" font-size="10.8" text-anchor="end" fill="#000" stroke="#000" stroke-width="0.22">40</text>
<line x1="178.80" y1="585.70" x2="183.70" y2="585.70" stroke="#000" stroke-width="2.3" stroke-linecap="butt"/>
<text x="176.00" y="589.50" font-size="10.8" text-anchor="end" fill="#000" stroke="#000" stroke-width="0.22">60</text>
<line x1="580.30" y1="800.50" x2="585.00" y2="800.50" stroke="#0000ff" stroke-width="2.4" stroke-linecap="butt"/>
<text x="587.80" y="804.30" font-size="10.8" text-anchor="start" fill="#0000ff" stroke="#0000ff" stroke-width="0.22">0</text>
<line x1="580.30" y1="759.50" x2="585.00" y2="759.50" stroke="#0000ff" stroke-width="2.4" stroke-linecap="butt"/>
<text x="587.80" y="763.30" font-size="10.8" text-anchor="start" fill="#0000ff" stroke="#0000ff" stroke-width="0.22">20</text>
<line x1="580.30" y1="718.50" x2="585.00" y2="718.50" stroke="#0000ff" stroke-width="2.4" stroke-linecap="butt"/>
<text x="587.80" y="722.30" font-size="10.8" text-anchor="start" fill="#0000ff" stroke="#0000ff" stroke-width="0.22">40</text>
<line x1="580.30" y1="677.50" x2="585.00" y2="677.50" stroke="#0000ff" stroke-width="2.4" stroke-linecap="butt"/>
<text x="587.80" y="681.30" font-size="10.8" text-anchor="start" fill="#0000ff" stroke="#0000ff" stroke-width="0.22">60</text>
<line x1="580.30" y1="636.50" x2="585.00" y2="636.50" stroke="#0000ff" stroke-width="2.4" stroke-linecap="butt"/>
<text x="587.80" y="640.30" font-size="10.8" text-anchor="start" fill="#0000ff" stroke="#0000ff" stroke-width="0.22">80</text>
<line x1="580.30" y1="595.50" x2="585.00" y2="595.50" stroke="#0000ff" stroke-width="2.4" stroke-linecap="butt"/>
<text x="587.80" y="599.30" font-size="10.8" text-anchor="start" fill="#0000ff" stroke="#0000ff" stroke-width="0.22">100</text>
<text x="382.00" y="831.70" font-size="13.4" text-anchor="middle" fill="#000" stroke="#000" stroke-width="0.22">No. of cycles</text>
<text x="154.60" y="693.20" font-size="12.15" text-anchor="middle" fill="#000" stroke="#000" stroke-width="0.22" transform="rotate(-90 154.60 693.20)">Discharge capacity(mAh/g)</text>
<text x="617.50" y="693.00" font-size="13.2" text-anchor="middle" fill="#000" stroke="#000" stroke-width="0.22" transform="rotate(-90 617.50 693.00)">C.E.</text>
</svg>
</body></html>
